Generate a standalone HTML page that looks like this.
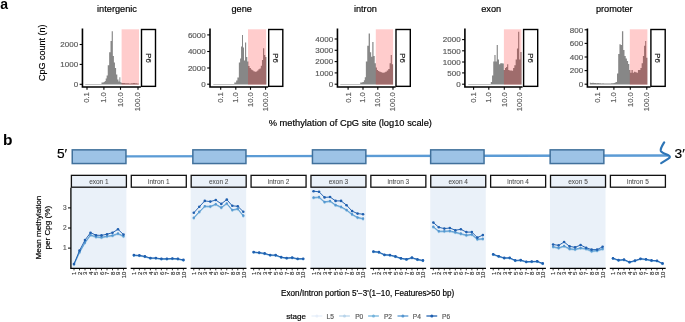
<!DOCTYPE html>
<html><head><meta charset="utf-8"><style>
html,body{margin:0;padding:0;background:#fff;width:685px;height:322px;overflow:hidden}
svg{display:block;will-change:transform}
</style></head><body>
<svg width="685" height="322" viewBox="0 0 685 322" font-family='"Liberation Sans", sans-serif'>
<rect width="685" height="322" fill="#fff"/>
<text x="0.2" y="8.5" font-size="14" font-weight="bold" fill="#000">a</text>
<text transform="translate(44.9,52.7) rotate(-90)" text-anchor="middle" font-size="9" fill="#000" stroke="#000" stroke-width="0.18">CpG count (n)</text>
<text x="350.3" y="125.6" text-anchor="middle" font-size="9.3" fill="#000" stroke="#000" stroke-width="0.18">% methylation of CpG site (log10 scale)</text>
<text x="117" y="11.7" text-anchor="middle" font-size="9.2" fill="#000" stroke="#000" stroke-width="0.18">intergenic</text>
<path d="M85.3,84.5 L85.3,83.95 L88,83.95 L88,83.95 L92,83.95 L92,83.95 L95.5,83.95 L95.5,83.95 L98.5,83.95 L98.5,83.95 L101.5,83.95 L101.5,82.6 L103.65,82.6 L103.65,82 L104.75,82 L104.75,81 L105.7,81 L105.7,78.5 L106.65,78.5 L106.65,75.5 L107.75,75.5 L107.75,65.2 L109.15,65.2 L109.15,52.2 L110.5,52.2 L110.5,41 L111.7,41 L111.7,31.2 L112.85,31.2 L112.85,56 L113.9,56 L113.9,62.4 L114.95,62.4 L114.95,68 L116.1,68 L116.1,74.6 L117.3,74.6 L117.3,79.5 L118.45,79.5 L118.45,81.5 L119.4,81.5 L119.4,77.3 L120.3,77.3 L120.3,82.3 L121.4,82.3 L121.4,83 L123,83 L123,83.1 L125,83.1 L125,83.3 L127,83.3 L127,83.2 L129,83.2 L129,83.4 L131,83.4 L131,83.3 L133,83.3 L133,83.1 L135,83.1 L135,83.3 L137,83.3 L137,83.4 L138.7,83.4 L138.7,84.5 Z" fill="#878787"/>
<rect x="121.6" y="29.3" width="17.4" height="55.5" fill="#ff0000" fill-opacity="0.2"/>
<path d="M82.45,28.4 V87 H140.9" fill="none" stroke="#000" stroke-width="1.6"/>
<line x1="79.65" x2="82.45" y1="84.3" y2="84.3" stroke="#000" stroke-width="1.1"/>
<text x="78.15" y="87.1" text-anchor="end" font-size="8" fill="#5a5a5a" stroke="#5a5a5a" stroke-width="0.18">0</text>
<line x1="79.65" x2="82.45" y1="64.4" y2="64.4" stroke="#000" stroke-width="1.1"/>
<text x="78.15" y="67.2" text-anchor="end" font-size="8" fill="#5a5a5a" stroke="#5a5a5a" stroke-width="0.18">1000</text>
<line x1="79.65" x2="82.45" y1="44.5" y2="44.5" stroke="#000" stroke-width="1.1"/>
<text x="78.15" y="47.3" text-anchor="end" font-size="8" fill="#5a5a5a" stroke="#5a5a5a" stroke-width="0.18">2000</text>
<line x1="87" x2="87" y1="87" y2="89.8" stroke="#000" stroke-width="1.1"/>
<text transform="translate(89.4,92.2) rotate(-90)" text-anchor="end" font-size="7.6" fill="#5a5a5a" stroke="#5a5a5a" stroke-width="0.18">0.1</text>
<line x1="103.9" x2="103.9" y1="87" y2="89.8" stroke="#000" stroke-width="1.1"/>
<text transform="translate(106.3,92.2) rotate(-90)" text-anchor="end" font-size="7.6" fill="#5a5a5a" stroke="#5a5a5a" stroke-width="0.18">1.0</text>
<line x1="120.5" x2="120.5" y1="87" y2="89.8" stroke="#000" stroke-width="1.1"/>
<text transform="translate(122.9,92.2) rotate(-90)" text-anchor="end" font-size="7.6" fill="#5a5a5a" stroke="#5a5a5a" stroke-width="0.18">10.0</text>
<line x1="138" x2="138" y1="87" y2="89.8" stroke="#000" stroke-width="1.1"/>
<text transform="translate(140.4,92.2) rotate(-90)" text-anchor="end" font-size="7.6" fill="#5a5a5a" stroke="#5a5a5a" stroke-width="0.18">100.0</text>
<rect x="141.5" y="29.5" width="14" height="56.85" fill="#fff" stroke="#000" stroke-width="1.4"/>
<text transform="translate(145.8,58.0) rotate(90)" text-anchor="middle" font-size="7.8" fill="#1a1a1a" stroke="#1a1a1a" stroke-width="0.18">P6</text>
<text x="241.7" y="11.7" text-anchor="middle" font-size="9.2" fill="#000" stroke="#000" stroke-width="0.18">gene</text>
<path d="M213.3,84.5 L213.3,83.95 L216,83.95 L216,83.95 L220,83.95 L220,83.95 L224,83.95 L224,83.95 L228,83.95 L228,83.95 L231.5,83.95 L231.5,83.95 L234.3,83.95 L234.3,82.6 L236.15,82.6 L236.15,80.5 L237.4,80.5 L237.4,77.5 L238.85,77.5 L238.85,62.4 L240.1,62.4 L240.1,58.6 L241.05,58.6 L241.05,46.6 L242,46.6 L242,35 L243,35 L243,47.6 L244,47.6 L244,60.6 L245.05,60.6 L245.05,42.5 L246.15,42.5 L246.15,56.9 L247.3,56.9 L247.3,61.6 L248.4,61.6 L248.4,66 L249.6,66 L249.6,68 L250.9,68 L250.9,69.5 L252.1,69.5 L252.1,70.2 L253.35,70.2 L253.35,71.2 L254.65,71.2 L254.65,71.7 L255.95,71.7 L255.95,71.6 L257.2,71.6 L257.2,70.4 L258.4,70.4 L258.4,69.2 L259.6,69.2 L259.6,68.6 L260.8,68.6 L260.8,65.8 L261.95,65.8 L261.95,60 L263.05,60 L263.05,48.3 L264.2,48.3 L264.2,55 L265.25,55 L265.25,57 L266.4,57 L266.4,84.5 Z" fill="#878787"/>
<rect x="248" y="29.3" width="18.1" height="55.5" fill="#ff0000" fill-opacity="0.2"/>
<path d="M210,28.4 V87 H268.1" fill="none" stroke="#000" stroke-width="1.6"/>
<line x1="207.2" x2="210" y1="84.2" y2="84.2" stroke="#000" stroke-width="1.1"/>
<text x="205.7" y="87" text-anchor="end" font-size="8" fill="#5a5a5a" stroke="#5a5a5a" stroke-width="0.18">0</text>
<line x1="207.2" x2="210" y1="68" y2="68" stroke="#000" stroke-width="1.1"/>
<text x="205.7" y="70.8" text-anchor="end" font-size="8" fill="#5a5a5a" stroke="#5a5a5a" stroke-width="0.18">2000</text>
<line x1="207.2" x2="210" y1="51.5" y2="51.5" stroke="#000" stroke-width="1.1"/>
<text x="205.7" y="54.3" text-anchor="end" font-size="8" fill="#5a5a5a" stroke="#5a5a5a" stroke-width="0.18">4000</text>
<line x1="207.2" x2="210" y1="34.9" y2="34.9" stroke="#000" stroke-width="1.1"/>
<text x="205.7" y="37.7" text-anchor="end" font-size="8" fill="#5a5a5a" stroke="#5a5a5a" stroke-width="0.18">6000</text>
<line x1="220.7" x2="220.7" y1="87" y2="89.8" stroke="#000" stroke-width="1.1"/>
<text transform="translate(223.1,92.2) rotate(-90)" text-anchor="end" font-size="7.6" fill="#5a5a5a" stroke="#5a5a5a" stroke-width="0.18">0.1</text>
<line x1="235.8" x2="235.8" y1="87" y2="89.8" stroke="#000" stroke-width="1.1"/>
<text transform="translate(238.2,92.2) rotate(-90)" text-anchor="end" font-size="7.6" fill="#5a5a5a" stroke="#5a5a5a" stroke-width="0.18">1.0</text>
<line x1="250.5" x2="250.5" y1="87" y2="89.8" stroke="#000" stroke-width="1.1"/>
<text transform="translate(252.9,92.2) rotate(-90)" text-anchor="end" font-size="7.6" fill="#5a5a5a" stroke="#5a5a5a" stroke-width="0.18">10.0</text>
<line x1="265.6" x2="265.6" y1="87" y2="89.8" stroke="#000" stroke-width="1.1"/>
<text transform="translate(268,92.2) rotate(-90)" text-anchor="end" font-size="7.6" fill="#5a5a5a" stroke="#5a5a5a" stroke-width="0.18">100.0</text>
<rect x="268.7" y="29.5" width="14.1" height="56.85" fill="#fff" stroke="#000" stroke-width="1.4"/>
<text transform="translate(273.05,58.0) rotate(90)" text-anchor="middle" font-size="7.8" fill="#1a1a1a" stroke="#1a1a1a" stroke-width="0.18">P6</text>
<text x="365.4" y="11.7" text-anchor="middle" font-size="9.2" fill="#000" stroke="#000" stroke-width="0.18">intron</text>
<path d="M340.3,84.5 L340.3,83.95 L343,83.95 L343,83.95 L347,83.95 L347,83.95 L351,83.95 L351,83.95 L354.5,83.95 L354.5,83.95 L357.5,83.95 L357.5,83.95 L360.25,83.95 L360.25,82.6 L362.45,82.6 L362.45,82 L363.9,82 L363.9,80.2 L364.8,80.2 L364.8,77.3 L365.85,77.3 L365.85,61.5 L367.25,61.5 L367.25,45.7 L368.65,45.7 L368.65,33.6 L369.95,33.6 L369.95,52.2 L371.15,52.2 L371.15,56.8 L372.3,56.8 L372.3,42 L373.5,42 L373.5,55.9 L374.7,55.9 L374.7,63.3 L375.85,63.3 L375.85,67.5 L376.9,67.5 L376.9,69.9 L378.05,69.9 L378.05,71 L379.35,71 L379.35,71.7 L380.75,71.7 L380.75,72.3 L382.25,72.3 L382.25,72.7 L383.75,72.7 L383.75,72.5 L385.25,72.5 L385.25,71.7 L386.75,71.7 L386.75,70.6 L388.25,70.6 L388.25,68.9 L389.6,68.9 L389.6,63.3 L390.75,63.3 L390.75,55 L391.85,55 L391.85,64.3 L393.1,64.3 L393.1,84.5 Z" fill="#878787"/>
<rect x="375.8" y="29.3" width="17.3" height="55.5" fill="#ff0000" fill-opacity="0.2"/>
<path d="M337.45,28.4 V87 H395.6" fill="none" stroke="#000" stroke-width="1.6"/>
<line x1="334.65" x2="337.45" y1="84.2" y2="84.2" stroke="#000" stroke-width="1.1"/>
<text x="333.15" y="87" text-anchor="end" font-size="8" fill="#5a5a5a" stroke="#5a5a5a" stroke-width="0.18">0</text>
<line x1="334.65" x2="337.45" y1="72.9" y2="72.9" stroke="#000" stroke-width="1.1"/>
<text x="333.15" y="75.7" text-anchor="end" font-size="8" fill="#5a5a5a" stroke="#5a5a5a" stroke-width="0.18">1000</text>
<line x1="334.65" x2="337.45" y1="61.6" y2="61.6" stroke="#000" stroke-width="1.1"/>
<text x="333.15" y="64.4" text-anchor="end" font-size="8" fill="#5a5a5a" stroke="#5a5a5a" stroke-width="0.18">2000</text>
<line x1="334.65" x2="337.45" y1="50.3" y2="50.3" stroke="#000" stroke-width="1.1"/>
<text x="333.15" y="53.1" text-anchor="end" font-size="8" fill="#5a5a5a" stroke="#5a5a5a" stroke-width="0.18">3000</text>
<line x1="334.65" x2="337.45" y1="39" y2="39" stroke="#000" stroke-width="1.1"/>
<text x="333.15" y="41.8" text-anchor="end" font-size="8" fill="#5a5a5a" stroke="#5a5a5a" stroke-width="0.18">4000</text>
<line x1="348.1" x2="348.1" y1="87" y2="89.8" stroke="#000" stroke-width="1.1"/>
<text transform="translate(350.5,92.2) rotate(-90)" text-anchor="end" font-size="7.6" fill="#5a5a5a" stroke="#5a5a5a" stroke-width="0.18">0.1</text>
<line x1="363" x2="363" y1="87" y2="89.8" stroke="#000" stroke-width="1.1"/>
<text transform="translate(365.4,92.2) rotate(-90)" text-anchor="end" font-size="7.6" fill="#5a5a5a" stroke="#5a5a5a" stroke-width="0.18">1.0</text>
<line x1="377.8" x2="377.8" y1="87" y2="89.8" stroke="#000" stroke-width="1.1"/>
<text transform="translate(380.2,92.2) rotate(-90)" text-anchor="end" font-size="7.6" fill="#5a5a5a" stroke="#5a5a5a" stroke-width="0.18">10.0</text>
<line x1="393" x2="393" y1="87" y2="89.8" stroke="#000" stroke-width="1.1"/>
<text transform="translate(395.4,92.2) rotate(-90)" text-anchor="end" font-size="7.6" fill="#5a5a5a" stroke="#5a5a5a" stroke-width="0.18">100.0</text>
<rect x="396" y="29.5" width="14.3" height="56.85" fill="#fff" stroke="#000" stroke-width="1.4"/>
<text transform="translate(400.45,58.0) rotate(90)" text-anchor="middle" font-size="7.8" fill="#1a1a1a" stroke="#1a1a1a" stroke-width="0.18">P6</text>
<text x="491.2" y="11.7" text-anchor="middle" font-size="9.2" fill="#000" stroke="#000" stroke-width="0.18">exon</text>
<path d="M468.3,84.5 L468.3,83.95 L471,83.95 L471,83.95 L475,83.95 L475,83.95 L479,83.95 L479,83.95 L483,83.95 L483,83.95 L486.5,83.95 L486.5,83.95 L489.1,83.95 L489.1,83.95 L490.8,83.95 L490.8,82 L492.05,82 L492.05,75.4 L493.25,75.4 L493.25,61.5 L494.4,61.5 L494.4,55 L495.55,55 L495.55,61.5 L496.7,61.5 L496.7,45.1 L497.85,45.1 L497.85,59.6 L499,59.6 L499,64.3 L500.2,64.3 L500.2,63.3 L501.4,63.3 L501.4,63.3 L502.6,63.3 L502.6,63.5 L503.8,63.5 L503.8,69.9 L505,69.9 L505,68 L506.1,68 L506.1,67 L507.15,67 L507.15,64.3 L508.25,64.3 L508.25,69.9 L509.4,69.9 L509.4,70.4 L510.65,70.4 L510.65,70.6 L511.9,70.6 L511.9,70.8 L513.1,70.8 L513.1,68 L514.35,68 L514.35,65.2 L515.65,65.2 L515.65,59.6 L516.95,59.6 L516.95,48.5 L518.15,48.5 L518.15,31.7 L519.25,31.7 L519.25,59.6 L520.35,59.6 L520.35,52 L521.6,52 L521.6,84.5 Z" fill="#878787"/>
<rect x="503.9" y="29.3" width="17.6" height="55.5" fill="#ff0000" fill-opacity="0.2"/>
<path d="M464.9,28.4 V87 H522.6" fill="none" stroke="#000" stroke-width="1.6"/>
<line x1="462.1" x2="464.9" y1="84.2" y2="84.2" stroke="#000" stroke-width="1.1"/>
<text x="460.6" y="87" text-anchor="end" font-size="8" fill="#5a5a5a" stroke="#5a5a5a" stroke-width="0.18">0</text>
<line x1="462.1" x2="464.9" y1="72.9" y2="72.9" stroke="#000" stroke-width="1.1"/>
<text x="460.6" y="75.7" text-anchor="end" font-size="8" fill="#5a5a5a" stroke="#5a5a5a" stroke-width="0.18">500</text>
<line x1="462.1" x2="464.9" y1="62" y2="62" stroke="#000" stroke-width="1.1"/>
<text x="460.6" y="64.8" text-anchor="end" font-size="8" fill="#5a5a5a" stroke="#5a5a5a" stroke-width="0.18">1000</text>
<line x1="462.1" x2="464.9" y1="50.8" y2="50.8" stroke="#000" stroke-width="1.1"/>
<text x="460.6" y="53.6" text-anchor="end" font-size="8" fill="#5a5a5a" stroke="#5a5a5a" stroke-width="0.18">1500</text>
<line x1="462.1" x2="464.9" y1="39.6" y2="39.6" stroke="#000" stroke-width="1.1"/>
<text x="460.6" y="42.4" text-anchor="end" font-size="8" fill="#5a5a5a" stroke="#5a5a5a" stroke-width="0.18">2000</text>
<line x1="473.6" x2="473.6" y1="87" y2="89.8" stroke="#000" stroke-width="1.1"/>
<text transform="translate(476,92.2) rotate(-90)" text-anchor="end" font-size="7.6" fill="#5a5a5a" stroke="#5a5a5a" stroke-width="0.18">0.1</text>
<line x1="488.8" x2="488.8" y1="87" y2="89.8" stroke="#000" stroke-width="1.1"/>
<text transform="translate(491.2,92.2) rotate(-90)" text-anchor="end" font-size="7.6" fill="#5a5a5a" stroke="#5a5a5a" stroke-width="0.18">1.0</text>
<line x1="504.3" x2="504.3" y1="87" y2="89.8" stroke="#000" stroke-width="1.1"/>
<text transform="translate(506.7,92.2) rotate(-90)" text-anchor="end" font-size="7.6" fill="#5a5a5a" stroke="#5a5a5a" stroke-width="0.18">10.0</text>
<line x1="520" x2="520" y1="87" y2="89.8" stroke="#000" stroke-width="1.1"/>
<text transform="translate(522.4,92.2) rotate(-90)" text-anchor="end" font-size="7.6" fill="#5a5a5a" stroke="#5a5a5a" stroke-width="0.18">100.0</text>
<rect x="523.6" y="29.5" width="14.1" height="56.85" fill="#fff" stroke="#000" stroke-width="1.4"/>
<text transform="translate(527.95,58.0) rotate(90)" text-anchor="middle" font-size="7.8" fill="#1a1a1a" stroke="#1a1a1a" stroke-width="0.18">P6</text>
<text x="614.3" y="11.7" text-anchor="middle" font-size="9.2" fill="#000" stroke="#000" stroke-width="0.18">promoter</text>
<path d="M589.8,84.5 L589.8,82.7 L591.15,82.7 L591.15,82.9 L592.4,82.9 L592.4,82.8 L593.65,82.8 L593.65,83 L594.9,83 L594.9,82.9 L596.15,82.9 L596.15,83.2 L597.4,83.2 L597.4,83 L598.65,83 L598.65,83.3 L599.9,83.3 L599.9,83.2 L601.15,83.2 L601.15,83.4 L602.4,83.4 L602.4,83.3 L603.65,83.3 L603.65,83.5 L604.9,83.5 L604.9,83.4 L606.15,83.4 L606.15,83.5 L607.4,83.5 L607.4,83.4 L608.65,83.4 L608.65,83.5 L609.9,83.5 L609.9,83.4 L611.15,83.4 L611.15,83.3 L612.4,83.3 L612.4,83.2 L613.65,83.2 L613.65,83 L614.85,83 L614.85,82.6 L615.9,82.6 L615.9,82 L617,82 L617,73.6 L618.2,73.6 L618.2,54 L619.45,54 L619.45,44.2 L620.7,44.2 L620.7,45 L621.95,45 L621.95,31.2 L623.25,31.2 L623.25,50 L624.5,50 L624.5,56 L625.7,56 L625.7,58.5 L626.9,58.5 L626.9,61 L628.1,61 L628.1,64 L629.25,64 L629.25,70 L630.35,70 L630.35,72.7 L631.5,72.7 L631.5,69.9 L632.75,69.9 L632.75,72.7 L634.05,72.7 L634.05,71.7 L635.35,71.7 L635.35,72.3 L636.65,72.3 L636.65,72.7 L637.95,72.7 L637.95,69.9 L639.2,69.9 L639.2,70 L640.4,70 L640.4,68 L641.65,68 L641.65,63.3 L642.9,63.3 L642.9,55.9 L644.1,55.9 L644.1,45.7 L645.2,45.7 L645.2,41 L646.2,41 L646.2,57.8 L647.4,57.8 L647.4,84.5 Z" fill="#878787"/>
<rect x="629.8" y="29.3" width="17.6" height="55.5" fill="#ff0000" fill-opacity="0.2"/>
<path d="M587.4,28.4 V87 H650.5" fill="none" stroke="#000" stroke-width="1.6"/>
<line x1="584.6" x2="587.4" y1="84.2" y2="84.2" stroke="#000" stroke-width="1.1"/>
<text x="583.1" y="87" text-anchor="end" font-size="8" fill="#5a5a5a" stroke="#5a5a5a" stroke-width="0.18">0</text>
<line x1="584.6" x2="587.4" y1="70.6" y2="70.6" stroke="#000" stroke-width="1.1"/>
<text x="583.1" y="73.4" text-anchor="end" font-size="8" fill="#5a5a5a" stroke="#5a5a5a" stroke-width="0.18">200</text>
<line x1="584.6" x2="587.4" y1="57" y2="57" stroke="#000" stroke-width="1.1"/>
<text x="583.1" y="59.8" text-anchor="end" font-size="8" fill="#5a5a5a" stroke="#5a5a5a" stroke-width="0.18">400</text>
<line x1="584.6" x2="587.4" y1="43.4" y2="43.4" stroke="#000" stroke-width="1.1"/>
<text x="583.1" y="46.2" text-anchor="end" font-size="8" fill="#5a5a5a" stroke="#5a5a5a" stroke-width="0.18">600</text>
<line x1="584.6" x2="587.4" y1="29.8" y2="29.8" stroke="#000" stroke-width="1.1"/>
<text x="583.1" y="32.6" text-anchor="end" font-size="8" fill="#5a5a5a" stroke="#5a5a5a" stroke-width="0.18">800</text>
<line x1="597.4" x2="597.4" y1="87" y2="89.8" stroke="#000" stroke-width="1.1"/>
<text transform="translate(599.8,92.2) rotate(-90)" text-anchor="end" font-size="7.6" fill="#5a5a5a" stroke="#5a5a5a" stroke-width="0.18">0.1</text>
<line x1="613.9" x2="613.9" y1="87" y2="89.8" stroke="#000" stroke-width="1.1"/>
<text transform="translate(616.3,92.2) rotate(-90)" text-anchor="end" font-size="7.6" fill="#5a5a5a" stroke="#5a5a5a" stroke-width="0.18">1.0</text>
<line x1="630.3" x2="630.3" y1="87" y2="89.8" stroke="#000" stroke-width="1.1"/>
<text transform="translate(632.7,92.2) rotate(-90)" text-anchor="end" font-size="7.6" fill="#5a5a5a" stroke="#5a5a5a" stroke-width="0.18">10.0</text>
<line x1="646.8" x2="646.8" y1="87" y2="89.8" stroke="#000" stroke-width="1.1"/>
<text transform="translate(649.2,92.2) rotate(-90)" text-anchor="end" font-size="7.6" fill="#5a5a5a" stroke="#5a5a5a" stroke-width="0.18">100.0</text>
<rect x="650.9" y="29.5" width="14.3" height="56.85" fill="#fff" stroke="#000" stroke-width="1.4"/>
<text transform="translate(655.35,58.0) rotate(90)" text-anchor="middle" font-size="7.8" fill="#1a1a1a" stroke="#1a1a1a" stroke-width="0.18">P6</text>
<text x="2.9" y="145.2" font-size="15.5" font-weight="bold" fill="#000">b</text>
<text transform="translate(56.9,158.2) scale(1.1,1)" font-size="12.5" fill="#000" stroke="#000" stroke-width="0.18">5′</text>
<text transform="translate(674.5,158.2) scale(1.1,1)" font-size="12.5" fill="#000" stroke="#000" stroke-width="0.18">3′</text>
<line x1="126" y1="156.4" x2="668.5" y2="155.5" stroke="#5b9bd5" stroke-width="2.3"/>
<path d="M664.2,142.4 C662.3,145.5 660.2,148.6 660.8,150.8 C661.6,152.8 666,154 669,155.6 C670.3,156.4 670.1,157.7 668.4,158.6 L661.2,163.1" fill="none" stroke="#2e75b6" stroke-width="2.2" stroke-linecap="round" stroke-linejoin="round"/>
<rect x="72.25" y="149.85" width="53.7" height="13.7" fill="#9dc3e6" stroke="#41719c" stroke-width="1.5"/>
<rect x="192.85" y="149.85" width="53.1" height="13.7" fill="#9dc3e6" stroke="#41719c" stroke-width="1.5"/>
<rect x="312.45" y="149.85" width="53.4" height="13.7" fill="#9dc3e6" stroke="#41719c" stroke-width="1.5"/>
<rect x="430.65" y="149.85" width="53.4" height="13.7" fill="#9dc3e6" stroke="#41719c" stroke-width="1.5"/>
<rect x="550.15" y="149.85" width="53.7" height="13.7" fill="#9dc3e6" stroke="#41719c" stroke-width="1.5"/>
<rect x="70.9" y="187.8" width="55.5" height="80.6" fill="#eaf1f9"/>
<rect x="71.4" y="175.35" width="55" height="11.85" fill="#eaf1f9" stroke="#111" stroke-width="1.3"/>
<text x="98.9" y="183.9" text-anchor="middle" font-size="6.5" fill="#4a4a4a" stroke="#4a4a4a" stroke-width="0.05">exon 1</text>
<line x1="70.8" x2="126.7" y1="268.4" y2="268.4" stroke="#000" stroke-width="1.2"/>
<line x1="74" x2="74" y1="268.4" y2="270.4" stroke="#000" stroke-width="0.8"/>
<text transform="translate(76.3,271.6) rotate(-90)" text-anchor="end" font-size="6" fill="#333" stroke="#333" stroke-width="0.15">1</text>
<line x1="79.5" x2="79.5" y1="268.4" y2="270.4" stroke="#000" stroke-width="0.8"/>
<text transform="translate(81.8,271.6) rotate(-90)" text-anchor="end" font-size="6" fill="#333" stroke="#333" stroke-width="0.15">2</text>
<line x1="85" x2="85" y1="268.4" y2="270.4" stroke="#000" stroke-width="0.8"/>
<text transform="translate(87.3,271.6) rotate(-90)" text-anchor="end" font-size="6" fill="#333" stroke="#333" stroke-width="0.15">3</text>
<line x1="90.5" x2="90.5" y1="268.4" y2="270.4" stroke="#000" stroke-width="0.8"/>
<text transform="translate(92.8,271.6) rotate(-90)" text-anchor="end" font-size="6" fill="#333" stroke="#333" stroke-width="0.15">4</text>
<line x1="96" x2="96" y1="268.4" y2="270.4" stroke="#000" stroke-width="0.8"/>
<text transform="translate(98.3,271.6) rotate(-90)" text-anchor="end" font-size="6" fill="#333" stroke="#333" stroke-width="0.15">5</text>
<line x1="101.5" x2="101.5" y1="268.4" y2="270.4" stroke="#000" stroke-width="0.8"/>
<text transform="translate(103.8,271.6) rotate(-90)" text-anchor="end" font-size="6" fill="#333" stroke="#333" stroke-width="0.15">6</text>
<line x1="107" x2="107" y1="268.4" y2="270.4" stroke="#000" stroke-width="0.8"/>
<text transform="translate(109.3,271.6) rotate(-90)" text-anchor="end" font-size="6" fill="#333" stroke="#333" stroke-width="0.15">7</text>
<line x1="112.5" x2="112.5" y1="268.4" y2="270.4" stroke="#000" stroke-width="0.8"/>
<text transform="translate(114.8,271.6) rotate(-90)" text-anchor="end" font-size="6" fill="#333" stroke="#333" stroke-width="0.15">8</text>
<line x1="118" x2="118" y1="268.4" y2="270.4" stroke="#000" stroke-width="0.8"/>
<text transform="translate(120.3,271.6) rotate(-90)" text-anchor="end" font-size="6" fill="#333" stroke="#333" stroke-width="0.15">9</text>
<line x1="123.5" x2="123.5" y1="268.4" y2="270.4" stroke="#000" stroke-width="0.8"/>
<text transform="translate(125.8,271.6) rotate(-90)" text-anchor="end" font-size="6" fill="#333" stroke="#333" stroke-width="0.15">10</text>
<polyline points="74,265.5 79.5,253.6 85,243.9 90.5,236.4 96,238.2 101.5,238.7 107,237.6 112.5,236.9 118,234.9 123.5,237.6" fill="none" stroke="#e6eef9" stroke-width="0.85" stroke-linejoin="round"/>
<circle cx="74" cy="265.5" r="1.15" fill="#e6eef9"/>
<circle cx="79.5" cy="253.6" r="1.15" fill="#e6eef9"/>
<circle cx="85" cy="243.9" r="1.15" fill="#e6eef9"/>
<circle cx="90.5" cy="236.4" r="1.15" fill="#e6eef9"/>
<circle cx="96" cy="238.2" r="1.15" fill="#e6eef9"/>
<circle cx="101.5" cy="238.7" r="1.15" fill="#e6eef9"/>
<circle cx="107" cy="237.6" r="1.15" fill="#e6eef9"/>
<circle cx="112.5" cy="236.9" r="1.15" fill="#e6eef9"/>
<circle cx="118" cy="234.9" r="1.15" fill="#e6eef9"/>
<circle cx="123.5" cy="237.6" r="1.15" fill="#e6eef9"/>
<polyline points="74,265 79.5,253.1 85,243.4 90.5,235.9 96,237.7 101.5,238.2 107,237.1 112.5,236.4 118,234.4 123.5,237.1" fill="none" stroke="#b8d4ea" stroke-width="0.85" stroke-linejoin="round"/>
<circle cx="74" cy="265" r="1.15" fill="#b8d4ea"/>
<circle cx="79.5" cy="253.1" r="1.15" fill="#b8d4ea"/>
<circle cx="85" cy="243.4" r="1.15" fill="#b8d4ea"/>
<circle cx="90.5" cy="235.9" r="1.15" fill="#b8d4ea"/>
<circle cx="96" cy="237.7" r="1.15" fill="#b8d4ea"/>
<circle cx="101.5" cy="238.2" r="1.15" fill="#b8d4ea"/>
<circle cx="107" cy="237.1" r="1.15" fill="#b8d4ea"/>
<circle cx="112.5" cy="236.4" r="1.15" fill="#b8d4ea"/>
<circle cx="118" cy="234.4" r="1.15" fill="#b8d4ea"/>
<circle cx="123.5" cy="237.1" r="1.15" fill="#b8d4ea"/>
<polyline points="74,264.5 79.5,252.6 85,242.9 90.5,235.4 96,237.2 101.5,237.7 107,236.6 112.5,235.9 118,233.9 123.5,236.6" fill="none" stroke="#74b3dc" stroke-width="0.85" stroke-linejoin="round"/>
<circle cx="74" cy="264.5" r="1.15" fill="#74b3dc"/>
<circle cx="79.5" cy="252.6" r="1.15" fill="#74b3dc"/>
<circle cx="85" cy="242.9" r="1.15" fill="#74b3dc"/>
<circle cx="90.5" cy="235.4" r="1.15" fill="#74b3dc"/>
<circle cx="96" cy="237.2" r="1.15" fill="#74b3dc"/>
<circle cx="101.5" cy="237.7" r="1.15" fill="#74b3dc"/>
<circle cx="107" cy="236.6" r="1.15" fill="#74b3dc"/>
<circle cx="112.5" cy="235.9" r="1.15" fill="#74b3dc"/>
<circle cx="118" cy="233.9" r="1.15" fill="#74b3dc"/>
<circle cx="123.5" cy="236.6" r="1.15" fill="#74b3dc"/>
<polyline points="74,264 79.5,252.1 85,242.4 90.5,234.9 96,236.7 101.5,237.2 107,236.1 112.5,235.4 118,233.4 123.5,236.1" fill="none" stroke="#5496d0" stroke-width="0.85" stroke-linejoin="round"/>
<circle cx="74" cy="264" r="1.15" fill="#5496d0"/>
<circle cx="79.5" cy="252.1" r="1.15" fill="#5496d0"/>
<circle cx="85" cy="242.4" r="1.15" fill="#5496d0"/>
<circle cx="90.5" cy="234.9" r="1.15" fill="#5496d0"/>
<circle cx="96" cy="236.7" r="1.15" fill="#5496d0"/>
<circle cx="101.5" cy="237.2" r="1.15" fill="#5496d0"/>
<circle cx="107" cy="236.1" r="1.15" fill="#5496d0"/>
<circle cx="112.5" cy="235.4" r="1.15" fill="#5496d0"/>
<circle cx="118" cy="233.4" r="1.15" fill="#5496d0"/>
<circle cx="123.5" cy="236.1" r="1.15" fill="#5496d0"/>
<polyline points="74,264 79.5,250.6 85,240.1 90.5,232.7 96,235.2 101.5,235.4 107,234.2 112.5,232.7 118,229.3 123.5,234.6" fill="none" stroke="#1f5faf" stroke-width="0.95" stroke-linejoin="round"/>
<circle cx="74" cy="264" r="1.3" fill="#1f5faf"/>
<circle cx="79.5" cy="250.6" r="1.3" fill="#1f5faf"/>
<circle cx="85" cy="240.1" r="1.3" fill="#1f5faf"/>
<circle cx="90.5" cy="232.7" r="1.3" fill="#1f5faf"/>
<circle cx="96" cy="235.2" r="1.3" fill="#1f5faf"/>
<circle cx="101.5" cy="235.4" r="1.3" fill="#1f5faf"/>
<circle cx="107" cy="234.2" r="1.3" fill="#1f5faf"/>
<circle cx="112.5" cy="232.7" r="1.3" fill="#1f5faf"/>
<circle cx="118" cy="229.3" r="1.3" fill="#1f5faf"/>
<circle cx="123.5" cy="234.6" r="1.3" fill="#1f5faf"/>
<rect x="131.29" y="175.35" width="55" height="11.85" fill="#fff" stroke="#111" stroke-width="1.3"/>
<text x="158.79" y="183.9" text-anchor="middle" font-size="6.5" fill="#4a4a4a" stroke="#4a4a4a" stroke-width="0.05">intron 1</text>
<line x1="130.69" x2="186.59" y1="268.4" y2="268.4" stroke="#000" stroke-width="1.2"/>
<line x1="133.89" x2="133.89" y1="268.4" y2="270.4" stroke="#000" stroke-width="0.8"/>
<text transform="translate(136.19,271.6) rotate(-90)" text-anchor="end" font-size="6" fill="#333" stroke="#333" stroke-width="0.15">1</text>
<line x1="139.39" x2="139.39" y1="268.4" y2="270.4" stroke="#000" stroke-width="0.8"/>
<text transform="translate(141.69,271.6) rotate(-90)" text-anchor="end" font-size="6" fill="#333" stroke="#333" stroke-width="0.15">2</text>
<line x1="144.89" x2="144.89" y1="268.4" y2="270.4" stroke="#000" stroke-width="0.8"/>
<text transform="translate(147.19,271.6) rotate(-90)" text-anchor="end" font-size="6" fill="#333" stroke="#333" stroke-width="0.15">3</text>
<line x1="150.39" x2="150.39" y1="268.4" y2="270.4" stroke="#000" stroke-width="0.8"/>
<text transform="translate(152.69,271.6) rotate(-90)" text-anchor="end" font-size="6" fill="#333" stroke="#333" stroke-width="0.15">4</text>
<line x1="155.89" x2="155.89" y1="268.4" y2="270.4" stroke="#000" stroke-width="0.8"/>
<text transform="translate(158.19,271.6) rotate(-90)" text-anchor="end" font-size="6" fill="#333" stroke="#333" stroke-width="0.15">5</text>
<line x1="161.39" x2="161.39" y1="268.4" y2="270.4" stroke="#000" stroke-width="0.8"/>
<text transform="translate(163.69,271.6) rotate(-90)" text-anchor="end" font-size="6" fill="#333" stroke="#333" stroke-width="0.15">6</text>
<line x1="166.89" x2="166.89" y1="268.4" y2="270.4" stroke="#000" stroke-width="0.8"/>
<text transform="translate(169.19,271.6) rotate(-90)" text-anchor="end" font-size="6" fill="#333" stroke="#333" stroke-width="0.15">7</text>
<line x1="172.39" x2="172.39" y1="268.4" y2="270.4" stroke="#000" stroke-width="0.8"/>
<text transform="translate(174.69,271.6) rotate(-90)" text-anchor="end" font-size="6" fill="#333" stroke="#333" stroke-width="0.15">8</text>
<line x1="177.89" x2="177.89" y1="268.4" y2="270.4" stroke="#000" stroke-width="0.8"/>
<text transform="translate(180.19,271.6) rotate(-90)" text-anchor="end" font-size="6" fill="#333" stroke="#333" stroke-width="0.15">9</text>
<line x1="183.39" x2="183.39" y1="268.4" y2="270.4" stroke="#000" stroke-width="0.8"/>
<text transform="translate(185.69,271.6) rotate(-90)" text-anchor="end" font-size="6" fill="#333" stroke="#333" stroke-width="0.15">10</text>
<polyline points="133.89,255.98 139.39,256.28 144.89,257.28 150.39,258.88 155.89,258.88 161.39,259.68 166.89,259.68 172.39,259.38 177.89,259.68 183.39,260.78" fill="none" stroke="#e6eef9" stroke-width="0.85" stroke-linejoin="round"/>
<circle cx="133.89" cy="255.98" r="1.15" fill="#e6eef9"/>
<circle cx="139.39" cy="256.28" r="1.15" fill="#e6eef9"/>
<circle cx="144.89" cy="257.28" r="1.15" fill="#e6eef9"/>
<circle cx="150.39" cy="258.88" r="1.15" fill="#e6eef9"/>
<circle cx="155.89" cy="258.88" r="1.15" fill="#e6eef9"/>
<circle cx="161.39" cy="259.68" r="1.15" fill="#e6eef9"/>
<circle cx="166.89" cy="259.68" r="1.15" fill="#e6eef9"/>
<circle cx="172.39" cy="259.38" r="1.15" fill="#e6eef9"/>
<circle cx="177.89" cy="259.68" r="1.15" fill="#e6eef9"/>
<circle cx="183.39" cy="260.78" r="1.15" fill="#e6eef9"/>
<polyline points="133.89,255.76 139.39,256.06 144.89,257.06 150.39,258.66 155.89,258.66 161.39,259.46 166.89,259.46 172.39,259.16 177.89,259.46 183.39,260.56" fill="none" stroke="#b8d4ea" stroke-width="0.85" stroke-linejoin="round"/>
<circle cx="133.89" cy="255.76" r="1.15" fill="#b8d4ea"/>
<circle cx="139.39" cy="256.06" r="1.15" fill="#b8d4ea"/>
<circle cx="144.89" cy="257.06" r="1.15" fill="#b8d4ea"/>
<circle cx="150.39" cy="258.66" r="1.15" fill="#b8d4ea"/>
<circle cx="155.89" cy="258.66" r="1.15" fill="#b8d4ea"/>
<circle cx="161.39" cy="259.46" r="1.15" fill="#b8d4ea"/>
<circle cx="166.89" cy="259.46" r="1.15" fill="#b8d4ea"/>
<circle cx="172.39" cy="259.16" r="1.15" fill="#b8d4ea"/>
<circle cx="177.89" cy="259.46" r="1.15" fill="#b8d4ea"/>
<circle cx="183.39" cy="260.56" r="1.15" fill="#b8d4ea"/>
<polyline points="133.89,255.54 139.39,255.84 144.89,256.84 150.39,258.44 155.89,258.44 161.39,259.24 166.89,259.24 172.39,258.94 177.89,259.24 183.39,260.34" fill="none" stroke="#74b3dc" stroke-width="0.85" stroke-linejoin="round"/>
<circle cx="133.89" cy="255.54" r="1.15" fill="#74b3dc"/>
<circle cx="139.39" cy="255.84" r="1.15" fill="#74b3dc"/>
<circle cx="144.89" cy="256.84" r="1.15" fill="#74b3dc"/>
<circle cx="150.39" cy="258.44" r="1.15" fill="#74b3dc"/>
<circle cx="155.89" cy="258.44" r="1.15" fill="#74b3dc"/>
<circle cx="161.39" cy="259.24" r="1.15" fill="#74b3dc"/>
<circle cx="166.89" cy="259.24" r="1.15" fill="#74b3dc"/>
<circle cx="172.39" cy="258.94" r="1.15" fill="#74b3dc"/>
<circle cx="177.89" cy="259.24" r="1.15" fill="#74b3dc"/>
<circle cx="183.39" cy="260.34" r="1.15" fill="#74b3dc"/>
<polyline points="133.89,255.32 139.39,255.62 144.89,256.62 150.39,258.22 155.89,258.22 161.39,259.02 166.89,259.02 172.39,258.72 177.89,259.02 183.39,260.12" fill="none" stroke="#5496d0" stroke-width="0.85" stroke-linejoin="round"/>
<circle cx="133.89" cy="255.32" r="1.15" fill="#5496d0"/>
<circle cx="139.39" cy="255.62" r="1.15" fill="#5496d0"/>
<circle cx="144.89" cy="256.62" r="1.15" fill="#5496d0"/>
<circle cx="150.39" cy="258.22" r="1.15" fill="#5496d0"/>
<circle cx="155.89" cy="258.22" r="1.15" fill="#5496d0"/>
<circle cx="161.39" cy="259.02" r="1.15" fill="#5496d0"/>
<circle cx="166.89" cy="259.02" r="1.15" fill="#5496d0"/>
<circle cx="172.39" cy="258.72" r="1.15" fill="#5496d0"/>
<circle cx="177.89" cy="259.02" r="1.15" fill="#5496d0"/>
<circle cx="183.39" cy="260.12" r="1.15" fill="#5496d0"/>
<polyline points="133.89,255.1 139.39,255.4 144.89,256.4 150.39,258 155.89,258 161.39,258.8 166.89,258.8 172.39,258.5 177.89,258.8 183.39,259.9" fill="none" stroke="#1f5faf" stroke-width="0.95" stroke-linejoin="round"/>
<circle cx="133.89" cy="255.1" r="1.3" fill="#1f5faf"/>
<circle cx="139.39" cy="255.4" r="1.3" fill="#1f5faf"/>
<circle cx="144.89" cy="256.4" r="1.3" fill="#1f5faf"/>
<circle cx="150.39" cy="258" r="1.3" fill="#1f5faf"/>
<circle cx="155.89" cy="258" r="1.3" fill="#1f5faf"/>
<circle cx="161.39" cy="258.8" r="1.3" fill="#1f5faf"/>
<circle cx="166.89" cy="258.8" r="1.3" fill="#1f5faf"/>
<circle cx="172.39" cy="258.5" r="1.3" fill="#1f5faf"/>
<circle cx="177.89" cy="258.8" r="1.3" fill="#1f5faf"/>
<circle cx="183.39" cy="259.9" r="1.3" fill="#1f5faf"/>
<rect x="190.68" y="187.8" width="55.5" height="80.6" fill="#eaf1f9"/>
<rect x="191.18" y="175.35" width="55" height="11.85" fill="#eaf1f9" stroke="#111" stroke-width="1.3"/>
<text x="218.68" y="183.9" text-anchor="middle" font-size="6.5" fill="#4a4a4a" stroke="#4a4a4a" stroke-width="0.05">exon 2</text>
<line x1="190.58" x2="246.48" y1="268.4" y2="268.4" stroke="#000" stroke-width="1.2"/>
<line x1="193.78" x2="193.78" y1="268.4" y2="270.4" stroke="#000" stroke-width="0.8"/>
<text transform="translate(196.08,271.6) rotate(-90)" text-anchor="end" font-size="6" fill="#333" stroke="#333" stroke-width="0.15">1</text>
<line x1="199.28" x2="199.28" y1="268.4" y2="270.4" stroke="#000" stroke-width="0.8"/>
<text transform="translate(201.58,271.6) rotate(-90)" text-anchor="end" font-size="6" fill="#333" stroke="#333" stroke-width="0.15">2</text>
<line x1="204.78" x2="204.78" y1="268.4" y2="270.4" stroke="#000" stroke-width="0.8"/>
<text transform="translate(207.08,271.6) rotate(-90)" text-anchor="end" font-size="6" fill="#333" stroke="#333" stroke-width="0.15">3</text>
<line x1="210.28" x2="210.28" y1="268.4" y2="270.4" stroke="#000" stroke-width="0.8"/>
<text transform="translate(212.58,271.6) rotate(-90)" text-anchor="end" font-size="6" fill="#333" stroke="#333" stroke-width="0.15">4</text>
<line x1="215.78" x2="215.78" y1="268.4" y2="270.4" stroke="#000" stroke-width="0.8"/>
<text transform="translate(218.08,271.6) rotate(-90)" text-anchor="end" font-size="6" fill="#333" stroke="#333" stroke-width="0.15">5</text>
<line x1="221.28" x2="221.28" y1="268.4" y2="270.4" stroke="#000" stroke-width="0.8"/>
<text transform="translate(223.58,271.6) rotate(-90)" text-anchor="end" font-size="6" fill="#333" stroke="#333" stroke-width="0.15">6</text>
<line x1="226.78" x2="226.78" y1="268.4" y2="270.4" stroke="#000" stroke-width="0.8"/>
<text transform="translate(229.08,271.6) rotate(-90)" text-anchor="end" font-size="6" fill="#333" stroke="#333" stroke-width="0.15">7</text>
<line x1="232.28" x2="232.28" y1="268.4" y2="270.4" stroke="#000" stroke-width="0.8"/>
<text transform="translate(234.58,271.6) rotate(-90)" text-anchor="end" font-size="6" fill="#333" stroke="#333" stroke-width="0.15">8</text>
<line x1="237.78" x2="237.78" y1="268.4" y2="270.4" stroke="#000" stroke-width="0.8"/>
<text transform="translate(240.08,271.6) rotate(-90)" text-anchor="end" font-size="6" fill="#333" stroke="#333" stroke-width="0.15">9</text>
<line x1="243.28" x2="243.28" y1="268.4" y2="270.4" stroke="#000" stroke-width="0.8"/>
<text transform="translate(245.58,271.6) rotate(-90)" text-anchor="end" font-size="6" fill="#333" stroke="#333" stroke-width="0.15">10</text>
<polyline points="193.78,219.2 199.28,213.2 204.78,207.6 210.28,207.8 215.78,205.6 221.28,208.9 226.78,204.8 232.28,211.3 237.78,210.2 243.28,217" fill="none" stroke="#e6eef9" stroke-width="0.85" stroke-linejoin="round"/>
<circle cx="193.78" cy="219.2" r="1.15" fill="#e6eef9"/>
<circle cx="199.28" cy="213.2" r="1.15" fill="#e6eef9"/>
<circle cx="204.78" cy="207.6" r="1.15" fill="#e6eef9"/>
<circle cx="210.28" cy="207.8" r="1.15" fill="#e6eef9"/>
<circle cx="215.78" cy="205.6" r="1.15" fill="#e6eef9"/>
<circle cx="221.28" cy="208.9" r="1.15" fill="#e6eef9"/>
<circle cx="226.78" cy="204.8" r="1.15" fill="#e6eef9"/>
<circle cx="232.28" cy="211.3" r="1.15" fill="#e6eef9"/>
<circle cx="237.78" cy="210.2" r="1.15" fill="#e6eef9"/>
<circle cx="243.28" cy="217" r="1.15" fill="#e6eef9"/>
<polyline points="193.78,218.7 199.28,212.7 204.78,207.1 210.28,207.3 215.78,205.1 221.28,208.4 226.78,204.3 232.28,210.8 237.78,209.7 243.28,216.5" fill="none" stroke="#b8d4ea" stroke-width="0.85" stroke-linejoin="round"/>
<circle cx="193.78" cy="218.7" r="1.15" fill="#b8d4ea"/>
<circle cx="199.28" cy="212.7" r="1.15" fill="#b8d4ea"/>
<circle cx="204.78" cy="207.1" r="1.15" fill="#b8d4ea"/>
<circle cx="210.28" cy="207.3" r="1.15" fill="#b8d4ea"/>
<circle cx="215.78" cy="205.1" r="1.15" fill="#b8d4ea"/>
<circle cx="221.28" cy="208.4" r="1.15" fill="#b8d4ea"/>
<circle cx="226.78" cy="204.3" r="1.15" fill="#b8d4ea"/>
<circle cx="232.28" cy="210.8" r="1.15" fill="#b8d4ea"/>
<circle cx="237.78" cy="209.7" r="1.15" fill="#b8d4ea"/>
<circle cx="243.28" cy="216.5" r="1.15" fill="#b8d4ea"/>
<polyline points="193.78,218.2 199.28,212.2 204.78,206.6 210.28,206.8 215.78,204.6 221.28,207.9 226.78,203.8 232.28,210.3 237.78,209.2 243.28,216" fill="none" stroke="#74b3dc" stroke-width="0.85" stroke-linejoin="round"/>
<circle cx="193.78" cy="218.2" r="1.15" fill="#74b3dc"/>
<circle cx="199.28" cy="212.2" r="1.15" fill="#74b3dc"/>
<circle cx="204.78" cy="206.6" r="1.15" fill="#74b3dc"/>
<circle cx="210.28" cy="206.8" r="1.15" fill="#74b3dc"/>
<circle cx="215.78" cy="204.6" r="1.15" fill="#74b3dc"/>
<circle cx="221.28" cy="207.9" r="1.15" fill="#74b3dc"/>
<circle cx="226.78" cy="203.8" r="1.15" fill="#74b3dc"/>
<circle cx="232.28" cy="210.3" r="1.15" fill="#74b3dc"/>
<circle cx="237.78" cy="209.2" r="1.15" fill="#74b3dc"/>
<circle cx="243.28" cy="216" r="1.15" fill="#74b3dc"/>
<polyline points="193.78,217.7 199.28,211.7 204.78,206.1 210.28,206.3 215.78,204.1 221.28,207.4 226.78,203.3 232.28,209.8 237.78,208.7 243.28,215.5" fill="none" stroke="#5496d0" stroke-width="0.85" stroke-linejoin="round"/>
<circle cx="193.78" cy="217.7" r="1.15" fill="#5496d0"/>
<circle cx="199.28" cy="211.7" r="1.15" fill="#5496d0"/>
<circle cx="204.78" cy="206.1" r="1.15" fill="#5496d0"/>
<circle cx="210.28" cy="206.3" r="1.15" fill="#5496d0"/>
<circle cx="215.78" cy="204.1" r="1.15" fill="#5496d0"/>
<circle cx="221.28" cy="207.4" r="1.15" fill="#5496d0"/>
<circle cx="226.78" cy="203.3" r="1.15" fill="#5496d0"/>
<circle cx="232.28" cy="209.8" r="1.15" fill="#5496d0"/>
<circle cx="237.78" cy="208.7" r="1.15" fill="#5496d0"/>
<circle cx="243.28" cy="215.5" r="1.15" fill="#5496d0"/>
<polyline points="193.78,212.8 199.28,206.8 204.78,200.9 210.28,201.6 215.78,200 221.28,203.9 226.78,199.6 232.28,205.8 237.78,206.3 243.28,211.7" fill="none" stroke="#1f5faf" stroke-width="0.95" stroke-linejoin="round"/>
<circle cx="193.78" cy="212.8" r="1.3" fill="#1f5faf"/>
<circle cx="199.28" cy="206.8" r="1.3" fill="#1f5faf"/>
<circle cx="204.78" cy="200.9" r="1.3" fill="#1f5faf"/>
<circle cx="210.28" cy="201.6" r="1.3" fill="#1f5faf"/>
<circle cx="215.78" cy="200" r="1.3" fill="#1f5faf"/>
<circle cx="221.28" cy="203.9" r="1.3" fill="#1f5faf"/>
<circle cx="226.78" cy="199.6" r="1.3" fill="#1f5faf"/>
<circle cx="232.28" cy="205.8" r="1.3" fill="#1f5faf"/>
<circle cx="237.78" cy="206.3" r="1.3" fill="#1f5faf"/>
<circle cx="243.28" cy="211.7" r="1.3" fill="#1f5faf"/>
<rect x="251.07" y="175.35" width="55" height="11.85" fill="#fff" stroke="#111" stroke-width="1.3"/>
<text x="278.57" y="183.9" text-anchor="middle" font-size="6.5" fill="#4a4a4a" stroke="#4a4a4a" stroke-width="0.05">intron 2</text>
<line x1="250.47" x2="306.37" y1="268.4" y2="268.4" stroke="#000" stroke-width="1.2"/>
<line x1="253.67" x2="253.67" y1="268.4" y2="270.4" stroke="#000" stroke-width="0.8"/>
<text transform="translate(255.97,271.6) rotate(-90)" text-anchor="end" font-size="6" fill="#333" stroke="#333" stroke-width="0.15">1</text>
<line x1="259.17" x2="259.17" y1="268.4" y2="270.4" stroke="#000" stroke-width="0.8"/>
<text transform="translate(261.47,271.6) rotate(-90)" text-anchor="end" font-size="6" fill="#333" stroke="#333" stroke-width="0.15">2</text>
<line x1="264.67" x2="264.67" y1="268.4" y2="270.4" stroke="#000" stroke-width="0.8"/>
<text transform="translate(266.97,271.6) rotate(-90)" text-anchor="end" font-size="6" fill="#333" stroke="#333" stroke-width="0.15">3</text>
<line x1="270.17" x2="270.17" y1="268.4" y2="270.4" stroke="#000" stroke-width="0.8"/>
<text transform="translate(272.47,271.6) rotate(-90)" text-anchor="end" font-size="6" fill="#333" stroke="#333" stroke-width="0.15">4</text>
<line x1="275.67" x2="275.67" y1="268.4" y2="270.4" stroke="#000" stroke-width="0.8"/>
<text transform="translate(277.97,271.6) rotate(-90)" text-anchor="end" font-size="6" fill="#333" stroke="#333" stroke-width="0.15">5</text>
<line x1="281.17" x2="281.17" y1="268.4" y2="270.4" stroke="#000" stroke-width="0.8"/>
<text transform="translate(283.47,271.6) rotate(-90)" text-anchor="end" font-size="6" fill="#333" stroke="#333" stroke-width="0.15">6</text>
<line x1="286.67" x2="286.67" y1="268.4" y2="270.4" stroke="#000" stroke-width="0.8"/>
<text transform="translate(288.97,271.6) rotate(-90)" text-anchor="end" font-size="6" fill="#333" stroke="#333" stroke-width="0.15">7</text>
<line x1="292.17" x2="292.17" y1="268.4" y2="270.4" stroke="#000" stroke-width="0.8"/>
<text transform="translate(294.47,271.6) rotate(-90)" text-anchor="end" font-size="6" fill="#333" stroke="#333" stroke-width="0.15">8</text>
<line x1="297.67" x2="297.67" y1="268.4" y2="270.4" stroke="#000" stroke-width="0.8"/>
<text transform="translate(299.97,271.6) rotate(-90)" text-anchor="end" font-size="6" fill="#333" stroke="#333" stroke-width="0.15">9</text>
<line x1="303.17" x2="303.17" y1="268.4" y2="270.4" stroke="#000" stroke-width="0.8"/>
<text transform="translate(305.47,271.6) rotate(-90)" text-anchor="end" font-size="6" fill="#333" stroke="#333" stroke-width="0.15">10</text>
<polyline points="253.67,252.88 259.17,253.48 264.67,254.28 270.17,255.88 275.67,255.98 281.17,257.98 286.67,258.88 292.17,258.48 297.67,259.58 303.17,259.58" fill="none" stroke="#e6eef9" stroke-width="0.85" stroke-linejoin="round"/>
<circle cx="253.67" cy="252.88" r="1.15" fill="#e6eef9"/>
<circle cx="259.17" cy="253.48" r="1.15" fill="#e6eef9"/>
<circle cx="264.67" cy="254.28" r="1.15" fill="#e6eef9"/>
<circle cx="270.17" cy="255.88" r="1.15" fill="#e6eef9"/>
<circle cx="275.67" cy="255.98" r="1.15" fill="#e6eef9"/>
<circle cx="281.17" cy="257.98" r="1.15" fill="#e6eef9"/>
<circle cx="286.67" cy="258.88" r="1.15" fill="#e6eef9"/>
<circle cx="292.17" cy="258.48" r="1.15" fill="#e6eef9"/>
<circle cx="297.67" cy="259.58" r="1.15" fill="#e6eef9"/>
<circle cx="303.17" cy="259.58" r="1.15" fill="#e6eef9"/>
<polyline points="253.67,252.66 259.17,253.26 264.67,254.06 270.17,255.66 275.67,255.76 281.17,257.76 286.67,258.66 292.17,258.26 297.67,259.36 303.17,259.36" fill="none" stroke="#b8d4ea" stroke-width="0.85" stroke-linejoin="round"/>
<circle cx="253.67" cy="252.66" r="1.15" fill="#b8d4ea"/>
<circle cx="259.17" cy="253.26" r="1.15" fill="#b8d4ea"/>
<circle cx="264.67" cy="254.06" r="1.15" fill="#b8d4ea"/>
<circle cx="270.17" cy="255.66" r="1.15" fill="#b8d4ea"/>
<circle cx="275.67" cy="255.76" r="1.15" fill="#b8d4ea"/>
<circle cx="281.17" cy="257.76" r="1.15" fill="#b8d4ea"/>
<circle cx="286.67" cy="258.66" r="1.15" fill="#b8d4ea"/>
<circle cx="292.17" cy="258.26" r="1.15" fill="#b8d4ea"/>
<circle cx="297.67" cy="259.36" r="1.15" fill="#b8d4ea"/>
<circle cx="303.17" cy="259.36" r="1.15" fill="#b8d4ea"/>
<polyline points="253.67,252.44 259.17,253.04 264.67,253.84 270.17,255.44 275.67,255.54 281.17,257.54 286.67,258.44 292.17,258.04 297.67,259.14 303.17,259.14" fill="none" stroke="#74b3dc" stroke-width="0.85" stroke-linejoin="round"/>
<circle cx="253.67" cy="252.44" r="1.15" fill="#74b3dc"/>
<circle cx="259.17" cy="253.04" r="1.15" fill="#74b3dc"/>
<circle cx="264.67" cy="253.84" r="1.15" fill="#74b3dc"/>
<circle cx="270.17" cy="255.44" r="1.15" fill="#74b3dc"/>
<circle cx="275.67" cy="255.54" r="1.15" fill="#74b3dc"/>
<circle cx="281.17" cy="257.54" r="1.15" fill="#74b3dc"/>
<circle cx="286.67" cy="258.44" r="1.15" fill="#74b3dc"/>
<circle cx="292.17" cy="258.04" r="1.15" fill="#74b3dc"/>
<circle cx="297.67" cy="259.14" r="1.15" fill="#74b3dc"/>
<circle cx="303.17" cy="259.14" r="1.15" fill="#74b3dc"/>
<polyline points="253.67,252.22 259.17,252.82 264.67,253.62 270.17,255.22 275.67,255.32 281.17,257.32 286.67,258.22 292.17,257.82 297.67,258.92 303.17,258.92" fill="none" stroke="#5496d0" stroke-width="0.85" stroke-linejoin="round"/>
<circle cx="253.67" cy="252.22" r="1.15" fill="#5496d0"/>
<circle cx="259.17" cy="252.82" r="1.15" fill="#5496d0"/>
<circle cx="264.67" cy="253.62" r="1.15" fill="#5496d0"/>
<circle cx="270.17" cy="255.22" r="1.15" fill="#5496d0"/>
<circle cx="275.67" cy="255.32" r="1.15" fill="#5496d0"/>
<circle cx="281.17" cy="257.32" r="1.15" fill="#5496d0"/>
<circle cx="286.67" cy="258.22" r="1.15" fill="#5496d0"/>
<circle cx="292.17" cy="257.82" r="1.15" fill="#5496d0"/>
<circle cx="297.67" cy="258.92" r="1.15" fill="#5496d0"/>
<circle cx="303.17" cy="258.92" r="1.15" fill="#5496d0"/>
<polyline points="253.67,252 259.17,252.6 264.67,253.4 270.17,255 275.67,255.1 281.17,257.1 286.67,258 292.17,257.6 297.67,258.7 303.17,258.7" fill="none" stroke="#1f5faf" stroke-width="0.95" stroke-linejoin="round"/>
<circle cx="253.67" cy="252" r="1.3" fill="#1f5faf"/>
<circle cx="259.17" cy="252.6" r="1.3" fill="#1f5faf"/>
<circle cx="264.67" cy="253.4" r="1.3" fill="#1f5faf"/>
<circle cx="270.17" cy="255" r="1.3" fill="#1f5faf"/>
<circle cx="275.67" cy="255.1" r="1.3" fill="#1f5faf"/>
<circle cx="281.17" cy="257.1" r="1.3" fill="#1f5faf"/>
<circle cx="286.67" cy="258" r="1.3" fill="#1f5faf"/>
<circle cx="292.17" cy="257.6" r="1.3" fill="#1f5faf"/>
<circle cx="297.67" cy="258.7" r="1.3" fill="#1f5faf"/>
<circle cx="303.17" cy="258.7" r="1.3" fill="#1f5faf"/>
<rect x="310.46" y="187.8" width="55.5" height="80.6" fill="#eaf1f9"/>
<rect x="310.96" y="175.35" width="55" height="11.85" fill="#eaf1f9" stroke="#111" stroke-width="1.3"/>
<text x="338.46" y="183.9" text-anchor="middle" font-size="6.5" fill="#4a4a4a" stroke="#4a4a4a" stroke-width="0.05">exon 3</text>
<line x1="310.36" x2="366.26" y1="268.4" y2="268.4" stroke="#000" stroke-width="1.2"/>
<line x1="313.56" x2="313.56" y1="268.4" y2="270.4" stroke="#000" stroke-width="0.8"/>
<text transform="translate(315.86,271.6) rotate(-90)" text-anchor="end" font-size="6" fill="#333" stroke="#333" stroke-width="0.15">1</text>
<line x1="319.06" x2="319.06" y1="268.4" y2="270.4" stroke="#000" stroke-width="0.8"/>
<text transform="translate(321.36,271.6) rotate(-90)" text-anchor="end" font-size="6" fill="#333" stroke="#333" stroke-width="0.15">2</text>
<line x1="324.56" x2="324.56" y1="268.4" y2="270.4" stroke="#000" stroke-width="0.8"/>
<text transform="translate(326.86,271.6) rotate(-90)" text-anchor="end" font-size="6" fill="#333" stroke="#333" stroke-width="0.15">3</text>
<line x1="330.06" x2="330.06" y1="268.4" y2="270.4" stroke="#000" stroke-width="0.8"/>
<text transform="translate(332.36,271.6) rotate(-90)" text-anchor="end" font-size="6" fill="#333" stroke="#333" stroke-width="0.15">4</text>
<line x1="335.56" x2="335.56" y1="268.4" y2="270.4" stroke="#000" stroke-width="0.8"/>
<text transform="translate(337.86,271.6) rotate(-90)" text-anchor="end" font-size="6" fill="#333" stroke="#333" stroke-width="0.15">5</text>
<line x1="341.06" x2="341.06" y1="268.4" y2="270.4" stroke="#000" stroke-width="0.8"/>
<text transform="translate(343.36,271.6) rotate(-90)" text-anchor="end" font-size="6" fill="#333" stroke="#333" stroke-width="0.15">6</text>
<line x1="346.56" x2="346.56" y1="268.4" y2="270.4" stroke="#000" stroke-width="0.8"/>
<text transform="translate(348.86,271.6) rotate(-90)" text-anchor="end" font-size="6" fill="#333" stroke="#333" stroke-width="0.15">7</text>
<line x1="352.06" x2="352.06" y1="268.4" y2="270.4" stroke="#000" stroke-width="0.8"/>
<text transform="translate(354.36,271.6) rotate(-90)" text-anchor="end" font-size="6" fill="#333" stroke="#333" stroke-width="0.15">8</text>
<line x1="357.56" x2="357.56" y1="268.4" y2="270.4" stroke="#000" stroke-width="0.8"/>
<text transform="translate(359.86,271.6) rotate(-90)" text-anchor="end" font-size="6" fill="#333" stroke="#333" stroke-width="0.15">9</text>
<line x1="363.06" x2="363.06" y1="268.4" y2="270.4" stroke="#000" stroke-width="0.8"/>
<text transform="translate(365.36,271.6) rotate(-90)" text-anchor="end" font-size="6" fill="#333" stroke="#333" stroke-width="0.15">10</text>
<polyline points="313.56,198.9 319.06,198.5 324.56,203.3 330.06,202.4 335.56,206.4 341.06,208.2 346.56,211.3 352.06,215.7 357.56,218.8 363.06,220" fill="none" stroke="#e6eef9" stroke-width="0.85" stroke-linejoin="round"/>
<circle cx="313.56" cy="198.9" r="1.15" fill="#e6eef9"/>
<circle cx="319.06" cy="198.5" r="1.15" fill="#e6eef9"/>
<circle cx="324.56" cy="203.3" r="1.15" fill="#e6eef9"/>
<circle cx="330.06" cy="202.4" r="1.15" fill="#e6eef9"/>
<circle cx="335.56" cy="206.4" r="1.15" fill="#e6eef9"/>
<circle cx="341.06" cy="208.2" r="1.15" fill="#e6eef9"/>
<circle cx="346.56" cy="211.3" r="1.15" fill="#e6eef9"/>
<circle cx="352.06" cy="215.7" r="1.15" fill="#e6eef9"/>
<circle cx="357.56" cy="218.8" r="1.15" fill="#e6eef9"/>
<circle cx="363.06" cy="220" r="1.15" fill="#e6eef9"/>
<polyline points="313.56,198.4 319.06,198 324.56,202.8 330.06,201.9 335.56,205.9 341.06,207.7 346.56,210.8 352.06,215.2 357.56,218.3 363.06,219.5" fill="none" stroke="#b8d4ea" stroke-width="0.85" stroke-linejoin="round"/>
<circle cx="313.56" cy="198.4" r="1.15" fill="#b8d4ea"/>
<circle cx="319.06" cy="198" r="1.15" fill="#b8d4ea"/>
<circle cx="324.56" cy="202.8" r="1.15" fill="#b8d4ea"/>
<circle cx="330.06" cy="201.9" r="1.15" fill="#b8d4ea"/>
<circle cx="335.56" cy="205.9" r="1.15" fill="#b8d4ea"/>
<circle cx="341.06" cy="207.7" r="1.15" fill="#b8d4ea"/>
<circle cx="346.56" cy="210.8" r="1.15" fill="#b8d4ea"/>
<circle cx="352.06" cy="215.2" r="1.15" fill="#b8d4ea"/>
<circle cx="357.56" cy="218.3" r="1.15" fill="#b8d4ea"/>
<circle cx="363.06" cy="219.5" r="1.15" fill="#b8d4ea"/>
<polyline points="313.56,197.9 319.06,197.5 324.56,202.3 330.06,201.4 335.56,205.4 341.06,207.2 346.56,210.3 352.06,214.7 357.56,217.8 363.06,219" fill="none" stroke="#74b3dc" stroke-width="0.85" stroke-linejoin="round"/>
<circle cx="313.56" cy="197.9" r="1.15" fill="#74b3dc"/>
<circle cx="319.06" cy="197.5" r="1.15" fill="#74b3dc"/>
<circle cx="324.56" cy="202.3" r="1.15" fill="#74b3dc"/>
<circle cx="330.06" cy="201.4" r="1.15" fill="#74b3dc"/>
<circle cx="335.56" cy="205.4" r="1.15" fill="#74b3dc"/>
<circle cx="341.06" cy="207.2" r="1.15" fill="#74b3dc"/>
<circle cx="346.56" cy="210.3" r="1.15" fill="#74b3dc"/>
<circle cx="352.06" cy="214.7" r="1.15" fill="#74b3dc"/>
<circle cx="357.56" cy="217.8" r="1.15" fill="#74b3dc"/>
<circle cx="363.06" cy="219" r="1.15" fill="#74b3dc"/>
<polyline points="313.56,197.4 319.06,197 324.56,201.8 330.06,200.9 335.56,204.9 341.06,206.7 346.56,209.8 352.06,214.2 357.56,217.3 363.06,218.5" fill="none" stroke="#5496d0" stroke-width="0.85" stroke-linejoin="round"/>
<circle cx="313.56" cy="197.4" r="1.15" fill="#5496d0"/>
<circle cx="319.06" cy="197" r="1.15" fill="#5496d0"/>
<circle cx="324.56" cy="201.8" r="1.15" fill="#5496d0"/>
<circle cx="330.06" cy="200.9" r="1.15" fill="#5496d0"/>
<circle cx="335.56" cy="204.9" r="1.15" fill="#5496d0"/>
<circle cx="341.06" cy="206.7" r="1.15" fill="#5496d0"/>
<circle cx="346.56" cy="209.8" r="1.15" fill="#5496d0"/>
<circle cx="352.06" cy="214.2" r="1.15" fill="#5496d0"/>
<circle cx="357.56" cy="217.3" r="1.15" fill="#5496d0"/>
<circle cx="363.06" cy="218.5" r="1.15" fill="#5496d0"/>
<polyline points="313.56,191.2 319.06,191.8 324.56,197.4 330.06,197 335.56,200.9 341.06,200.9 346.56,205.2 352.06,211.1 357.56,213.6 363.06,214.2" fill="none" stroke="#1f5faf" stroke-width="0.95" stroke-linejoin="round"/>
<circle cx="313.56" cy="191.2" r="1.3" fill="#1f5faf"/>
<circle cx="319.06" cy="191.8" r="1.3" fill="#1f5faf"/>
<circle cx="324.56" cy="197.4" r="1.3" fill="#1f5faf"/>
<circle cx="330.06" cy="197" r="1.3" fill="#1f5faf"/>
<circle cx="335.56" cy="200.9" r="1.3" fill="#1f5faf"/>
<circle cx="341.06" cy="200.9" r="1.3" fill="#1f5faf"/>
<circle cx="346.56" cy="205.2" r="1.3" fill="#1f5faf"/>
<circle cx="352.06" cy="211.1" r="1.3" fill="#1f5faf"/>
<circle cx="357.56" cy="213.6" r="1.3" fill="#1f5faf"/>
<circle cx="363.06" cy="214.2" r="1.3" fill="#1f5faf"/>
<rect x="370.85" y="175.35" width="55" height="11.85" fill="#fff" stroke="#111" stroke-width="1.3"/>
<text x="398.35" y="183.9" text-anchor="middle" font-size="6.5" fill="#4a4a4a" stroke="#4a4a4a" stroke-width="0.05">intron 3</text>
<line x1="370.25" x2="426.15" y1="268.4" y2="268.4" stroke="#000" stroke-width="1.2"/>
<line x1="373.45" x2="373.45" y1="268.4" y2="270.4" stroke="#000" stroke-width="0.8"/>
<text transform="translate(375.75,271.6) rotate(-90)" text-anchor="end" font-size="6" fill="#333" stroke="#333" stroke-width="0.15">1</text>
<line x1="378.95" x2="378.95" y1="268.4" y2="270.4" stroke="#000" stroke-width="0.8"/>
<text transform="translate(381.25,271.6) rotate(-90)" text-anchor="end" font-size="6" fill="#333" stroke="#333" stroke-width="0.15">2</text>
<line x1="384.45" x2="384.45" y1="268.4" y2="270.4" stroke="#000" stroke-width="0.8"/>
<text transform="translate(386.75,271.6) rotate(-90)" text-anchor="end" font-size="6" fill="#333" stroke="#333" stroke-width="0.15">3</text>
<line x1="389.95" x2="389.95" y1="268.4" y2="270.4" stroke="#000" stroke-width="0.8"/>
<text transform="translate(392.25,271.6) rotate(-90)" text-anchor="end" font-size="6" fill="#333" stroke="#333" stroke-width="0.15">4</text>
<line x1="395.45" x2="395.45" y1="268.4" y2="270.4" stroke="#000" stroke-width="0.8"/>
<text transform="translate(397.75,271.6) rotate(-90)" text-anchor="end" font-size="6" fill="#333" stroke="#333" stroke-width="0.15">5</text>
<line x1="400.95" x2="400.95" y1="268.4" y2="270.4" stroke="#000" stroke-width="0.8"/>
<text transform="translate(403.25,271.6) rotate(-90)" text-anchor="end" font-size="6" fill="#333" stroke="#333" stroke-width="0.15">6</text>
<line x1="406.45" x2="406.45" y1="268.4" y2="270.4" stroke="#000" stroke-width="0.8"/>
<text transform="translate(408.75,271.6) rotate(-90)" text-anchor="end" font-size="6" fill="#333" stroke="#333" stroke-width="0.15">7</text>
<line x1="411.95" x2="411.95" y1="268.4" y2="270.4" stroke="#000" stroke-width="0.8"/>
<text transform="translate(414.25,271.6) rotate(-90)" text-anchor="end" font-size="6" fill="#333" stroke="#333" stroke-width="0.15">8</text>
<line x1="417.45" x2="417.45" y1="268.4" y2="270.4" stroke="#000" stroke-width="0.8"/>
<text transform="translate(419.75,271.6) rotate(-90)" text-anchor="end" font-size="6" fill="#333" stroke="#333" stroke-width="0.15">9</text>
<line x1="422.95" x2="422.95" y1="268.4" y2="270.4" stroke="#000" stroke-width="0.8"/>
<text transform="translate(425.25,271.6) rotate(-90)" text-anchor="end" font-size="6" fill="#333" stroke="#333" stroke-width="0.15">10</text>
<polyline points="373.45,252.38 378.95,252.98 384.45,255.58 389.95,255.88 395.45,257.28 400.95,259.08 406.45,260.08 411.95,258.48 417.45,260.28 422.95,261.28" fill="none" stroke="#e6eef9" stroke-width="0.85" stroke-linejoin="round"/>
<circle cx="373.45" cy="252.38" r="1.15" fill="#e6eef9"/>
<circle cx="378.95" cy="252.98" r="1.15" fill="#e6eef9"/>
<circle cx="384.45" cy="255.58" r="1.15" fill="#e6eef9"/>
<circle cx="389.95" cy="255.88" r="1.15" fill="#e6eef9"/>
<circle cx="395.45" cy="257.28" r="1.15" fill="#e6eef9"/>
<circle cx="400.95" cy="259.08" r="1.15" fill="#e6eef9"/>
<circle cx="406.45" cy="260.08" r="1.15" fill="#e6eef9"/>
<circle cx="411.95" cy="258.48" r="1.15" fill="#e6eef9"/>
<circle cx="417.45" cy="260.28" r="1.15" fill="#e6eef9"/>
<circle cx="422.95" cy="261.28" r="1.15" fill="#e6eef9"/>
<polyline points="373.45,252.16 378.95,252.76 384.45,255.36 389.95,255.66 395.45,257.06 400.95,258.86 406.45,259.86 411.95,258.26 417.45,260.06 422.95,261.06" fill="none" stroke="#b8d4ea" stroke-width="0.85" stroke-linejoin="round"/>
<circle cx="373.45" cy="252.16" r="1.15" fill="#b8d4ea"/>
<circle cx="378.95" cy="252.76" r="1.15" fill="#b8d4ea"/>
<circle cx="384.45" cy="255.36" r="1.15" fill="#b8d4ea"/>
<circle cx="389.95" cy="255.66" r="1.15" fill="#b8d4ea"/>
<circle cx="395.45" cy="257.06" r="1.15" fill="#b8d4ea"/>
<circle cx="400.95" cy="258.86" r="1.15" fill="#b8d4ea"/>
<circle cx="406.45" cy="259.86" r="1.15" fill="#b8d4ea"/>
<circle cx="411.95" cy="258.26" r="1.15" fill="#b8d4ea"/>
<circle cx="417.45" cy="260.06" r="1.15" fill="#b8d4ea"/>
<circle cx="422.95" cy="261.06" r="1.15" fill="#b8d4ea"/>
<polyline points="373.45,251.94 378.95,252.54 384.45,255.14 389.95,255.44 395.45,256.84 400.95,258.64 406.45,259.64 411.95,258.04 417.45,259.84 422.95,260.84" fill="none" stroke="#74b3dc" stroke-width="0.85" stroke-linejoin="round"/>
<circle cx="373.45" cy="251.94" r="1.15" fill="#74b3dc"/>
<circle cx="378.95" cy="252.54" r="1.15" fill="#74b3dc"/>
<circle cx="384.45" cy="255.14" r="1.15" fill="#74b3dc"/>
<circle cx="389.95" cy="255.44" r="1.15" fill="#74b3dc"/>
<circle cx="395.45" cy="256.84" r="1.15" fill="#74b3dc"/>
<circle cx="400.95" cy="258.64" r="1.15" fill="#74b3dc"/>
<circle cx="406.45" cy="259.64" r="1.15" fill="#74b3dc"/>
<circle cx="411.95" cy="258.04" r="1.15" fill="#74b3dc"/>
<circle cx="417.45" cy="259.84" r="1.15" fill="#74b3dc"/>
<circle cx="422.95" cy="260.84" r="1.15" fill="#74b3dc"/>
<polyline points="373.45,251.72 378.95,252.32 384.45,254.92 389.95,255.22 395.45,256.62 400.95,258.42 406.45,259.42 411.95,257.82 417.45,259.62 422.95,260.62" fill="none" stroke="#5496d0" stroke-width="0.85" stroke-linejoin="round"/>
<circle cx="373.45" cy="251.72" r="1.15" fill="#5496d0"/>
<circle cx="378.95" cy="252.32" r="1.15" fill="#5496d0"/>
<circle cx="384.45" cy="254.92" r="1.15" fill="#5496d0"/>
<circle cx="389.95" cy="255.22" r="1.15" fill="#5496d0"/>
<circle cx="395.45" cy="256.62" r="1.15" fill="#5496d0"/>
<circle cx="400.95" cy="258.42" r="1.15" fill="#5496d0"/>
<circle cx="406.45" cy="259.42" r="1.15" fill="#5496d0"/>
<circle cx="411.95" cy="257.82" r="1.15" fill="#5496d0"/>
<circle cx="417.45" cy="259.62" r="1.15" fill="#5496d0"/>
<circle cx="422.95" cy="260.62" r="1.15" fill="#5496d0"/>
<polyline points="373.45,251.5 378.95,252.1 384.45,254.7 389.95,255 395.45,256.4 400.95,258.2 406.45,259.2 411.95,257.6 417.45,259.4 422.95,260.4" fill="none" stroke="#1f5faf" stroke-width="0.95" stroke-linejoin="round"/>
<circle cx="373.45" cy="251.5" r="1.3" fill="#1f5faf"/>
<circle cx="378.95" cy="252.1" r="1.3" fill="#1f5faf"/>
<circle cx="384.45" cy="254.7" r="1.3" fill="#1f5faf"/>
<circle cx="389.95" cy="255" r="1.3" fill="#1f5faf"/>
<circle cx="395.45" cy="256.4" r="1.3" fill="#1f5faf"/>
<circle cx="400.95" cy="258.2" r="1.3" fill="#1f5faf"/>
<circle cx="406.45" cy="259.2" r="1.3" fill="#1f5faf"/>
<circle cx="411.95" cy="257.6" r="1.3" fill="#1f5faf"/>
<circle cx="417.45" cy="259.4" r="1.3" fill="#1f5faf"/>
<circle cx="422.95" cy="260.4" r="1.3" fill="#1f5faf"/>
<rect x="430.24" y="187.8" width="55.5" height="80.6" fill="#eaf1f9"/>
<rect x="430.74" y="175.35" width="55" height="11.85" fill="#eaf1f9" stroke="#111" stroke-width="1.3"/>
<text x="458.24" y="183.9" text-anchor="middle" font-size="6.5" fill="#4a4a4a" stroke="#4a4a4a" stroke-width="0.05">exon 4</text>
<line x1="430.14" x2="486.04" y1="268.4" y2="268.4" stroke="#000" stroke-width="1.2"/>
<line x1="433.34" x2="433.34" y1="268.4" y2="270.4" stroke="#000" stroke-width="0.8"/>
<text transform="translate(435.64,271.6) rotate(-90)" text-anchor="end" font-size="6" fill="#333" stroke="#333" stroke-width="0.15">1</text>
<line x1="438.84" x2="438.84" y1="268.4" y2="270.4" stroke="#000" stroke-width="0.8"/>
<text transform="translate(441.14,271.6) rotate(-90)" text-anchor="end" font-size="6" fill="#333" stroke="#333" stroke-width="0.15">2</text>
<line x1="444.34" x2="444.34" y1="268.4" y2="270.4" stroke="#000" stroke-width="0.8"/>
<text transform="translate(446.64,271.6) rotate(-90)" text-anchor="end" font-size="6" fill="#333" stroke="#333" stroke-width="0.15">3</text>
<line x1="449.84" x2="449.84" y1="268.4" y2="270.4" stroke="#000" stroke-width="0.8"/>
<text transform="translate(452.14,271.6) rotate(-90)" text-anchor="end" font-size="6" fill="#333" stroke="#333" stroke-width="0.15">4</text>
<line x1="455.34" x2="455.34" y1="268.4" y2="270.4" stroke="#000" stroke-width="0.8"/>
<text transform="translate(457.64,271.6) rotate(-90)" text-anchor="end" font-size="6" fill="#333" stroke="#333" stroke-width="0.15">5</text>
<line x1="460.84" x2="460.84" y1="268.4" y2="270.4" stroke="#000" stroke-width="0.8"/>
<text transform="translate(463.14,271.6) rotate(-90)" text-anchor="end" font-size="6" fill="#333" stroke="#333" stroke-width="0.15">6</text>
<line x1="466.34" x2="466.34" y1="268.4" y2="270.4" stroke="#000" stroke-width="0.8"/>
<text transform="translate(468.64,271.6) rotate(-90)" text-anchor="end" font-size="6" fill="#333" stroke="#333" stroke-width="0.15">7</text>
<line x1="471.84" x2="471.84" y1="268.4" y2="270.4" stroke="#000" stroke-width="0.8"/>
<text transform="translate(474.14,271.6) rotate(-90)" text-anchor="end" font-size="6" fill="#333" stroke="#333" stroke-width="0.15">8</text>
<line x1="477.34" x2="477.34" y1="268.4" y2="270.4" stroke="#000" stroke-width="0.8"/>
<text transform="translate(479.64,271.6) rotate(-90)" text-anchor="end" font-size="6" fill="#333" stroke="#333" stroke-width="0.15">9</text>
<line x1="482.84" x2="482.84" y1="268.4" y2="270.4" stroke="#000" stroke-width="0.8"/>
<text transform="translate(485.14,271.6) rotate(-90)" text-anchor="end" font-size="6" fill="#333" stroke="#333" stroke-width="0.15">10</text>
<polyline points="433.34,228.2 438.84,232.6 444.34,232.6 449.84,232.3 455.34,233.7 460.84,235 466.34,236.6 471.84,235.8 477.34,240.6 482.84,240.2" fill="none" stroke="#e6eef9" stroke-width="0.85" stroke-linejoin="round"/>
<circle cx="433.34" cy="228.2" r="1.15" fill="#e6eef9"/>
<circle cx="438.84" cy="232.6" r="1.15" fill="#e6eef9"/>
<circle cx="444.34" cy="232.6" r="1.15" fill="#e6eef9"/>
<circle cx="449.84" cy="232.3" r="1.15" fill="#e6eef9"/>
<circle cx="455.34" cy="233.7" r="1.15" fill="#e6eef9"/>
<circle cx="460.84" cy="235" r="1.15" fill="#e6eef9"/>
<circle cx="466.34" cy="236.6" r="1.15" fill="#e6eef9"/>
<circle cx="471.84" cy="235.8" r="1.15" fill="#e6eef9"/>
<circle cx="477.34" cy="240.6" r="1.15" fill="#e6eef9"/>
<circle cx="482.84" cy="240.2" r="1.15" fill="#e6eef9"/>
<polyline points="433.34,227.7 438.84,232.1 444.34,232.1 449.84,231.8 455.34,233.2 460.84,234.5 466.34,236.1 471.84,235.3 477.34,240.1 482.84,239.7" fill="none" stroke="#b8d4ea" stroke-width="0.85" stroke-linejoin="round"/>
<circle cx="433.34" cy="227.7" r="1.15" fill="#b8d4ea"/>
<circle cx="438.84" cy="232.1" r="1.15" fill="#b8d4ea"/>
<circle cx="444.34" cy="232.1" r="1.15" fill="#b8d4ea"/>
<circle cx="449.84" cy="231.8" r="1.15" fill="#b8d4ea"/>
<circle cx="455.34" cy="233.2" r="1.15" fill="#b8d4ea"/>
<circle cx="460.84" cy="234.5" r="1.15" fill="#b8d4ea"/>
<circle cx="466.34" cy="236.1" r="1.15" fill="#b8d4ea"/>
<circle cx="471.84" cy="235.3" r="1.15" fill="#b8d4ea"/>
<circle cx="477.34" cy="240.1" r="1.15" fill="#b8d4ea"/>
<circle cx="482.84" cy="239.7" r="1.15" fill="#b8d4ea"/>
<polyline points="433.34,227.2 438.84,231.6 444.34,231.6 449.84,231.3 455.34,232.7 460.84,234 466.34,235.6 471.84,234.8 477.34,239.6 482.84,239.2" fill="none" stroke="#74b3dc" stroke-width="0.85" stroke-linejoin="round"/>
<circle cx="433.34" cy="227.2" r="1.15" fill="#74b3dc"/>
<circle cx="438.84" cy="231.6" r="1.15" fill="#74b3dc"/>
<circle cx="444.34" cy="231.6" r="1.15" fill="#74b3dc"/>
<circle cx="449.84" cy="231.3" r="1.15" fill="#74b3dc"/>
<circle cx="455.34" cy="232.7" r="1.15" fill="#74b3dc"/>
<circle cx="460.84" cy="234" r="1.15" fill="#74b3dc"/>
<circle cx="466.34" cy="235.6" r="1.15" fill="#74b3dc"/>
<circle cx="471.84" cy="234.8" r="1.15" fill="#74b3dc"/>
<circle cx="477.34" cy="239.6" r="1.15" fill="#74b3dc"/>
<circle cx="482.84" cy="239.2" r="1.15" fill="#74b3dc"/>
<polyline points="433.34,226.7 438.84,231.1 444.34,231.1 449.84,230.8 455.34,232.2 460.84,233.5 466.34,235.1 471.84,234.3 477.34,239.1 482.84,238.7" fill="none" stroke="#5496d0" stroke-width="0.85" stroke-linejoin="round"/>
<circle cx="433.34" cy="226.7" r="1.15" fill="#5496d0"/>
<circle cx="438.84" cy="231.1" r="1.15" fill="#5496d0"/>
<circle cx="444.34" cy="231.1" r="1.15" fill="#5496d0"/>
<circle cx="449.84" cy="230.8" r="1.15" fill="#5496d0"/>
<circle cx="455.34" cy="232.2" r="1.15" fill="#5496d0"/>
<circle cx="460.84" cy="233.5" r="1.15" fill="#5496d0"/>
<circle cx="466.34" cy="235.1" r="1.15" fill="#5496d0"/>
<circle cx="471.84" cy="234.3" r="1.15" fill="#5496d0"/>
<circle cx="477.34" cy="239.1" r="1.15" fill="#5496d0"/>
<circle cx="482.84" cy="238.7" r="1.15" fill="#5496d0"/>
<polyline points="433.34,222.6 438.84,227.3 444.34,228.6 449.84,228 455.34,230.2 460.84,229.3 466.34,232.1 471.84,232.1 477.34,237.6 482.84,235.1" fill="none" stroke="#1f5faf" stroke-width="0.95" stroke-linejoin="round"/>
<circle cx="433.34" cy="222.6" r="1.3" fill="#1f5faf"/>
<circle cx="438.84" cy="227.3" r="1.3" fill="#1f5faf"/>
<circle cx="444.34" cy="228.6" r="1.3" fill="#1f5faf"/>
<circle cx="449.84" cy="228" r="1.3" fill="#1f5faf"/>
<circle cx="455.34" cy="230.2" r="1.3" fill="#1f5faf"/>
<circle cx="460.84" cy="229.3" r="1.3" fill="#1f5faf"/>
<circle cx="466.34" cy="232.1" r="1.3" fill="#1f5faf"/>
<circle cx="471.84" cy="232.1" r="1.3" fill="#1f5faf"/>
<circle cx="477.34" cy="237.6" r="1.3" fill="#1f5faf"/>
<circle cx="482.84" cy="235.1" r="1.3" fill="#1f5faf"/>
<rect x="490.63" y="175.35" width="55" height="11.85" fill="#fff" stroke="#111" stroke-width="1.3"/>
<text x="518.13" y="183.9" text-anchor="middle" font-size="6.5" fill="#4a4a4a" stroke="#4a4a4a" stroke-width="0.05">intron 4</text>
<line x1="490.03" x2="545.93" y1="268.4" y2="268.4" stroke="#000" stroke-width="1.2"/>
<line x1="493.23" x2="493.23" y1="268.4" y2="270.4" stroke="#000" stroke-width="0.8"/>
<text transform="translate(495.53,271.6) rotate(-90)" text-anchor="end" font-size="6" fill="#333" stroke="#333" stroke-width="0.15">1</text>
<line x1="498.73" x2="498.73" y1="268.4" y2="270.4" stroke="#000" stroke-width="0.8"/>
<text transform="translate(501.03,271.6) rotate(-90)" text-anchor="end" font-size="6" fill="#333" stroke="#333" stroke-width="0.15">2</text>
<line x1="504.23" x2="504.23" y1="268.4" y2="270.4" stroke="#000" stroke-width="0.8"/>
<text transform="translate(506.53,271.6) rotate(-90)" text-anchor="end" font-size="6" fill="#333" stroke="#333" stroke-width="0.15">3</text>
<line x1="509.73" x2="509.73" y1="268.4" y2="270.4" stroke="#000" stroke-width="0.8"/>
<text transform="translate(512.03,271.6) rotate(-90)" text-anchor="end" font-size="6" fill="#333" stroke="#333" stroke-width="0.15">4</text>
<line x1="515.23" x2="515.23" y1="268.4" y2="270.4" stroke="#000" stroke-width="0.8"/>
<text transform="translate(517.53,271.6) rotate(-90)" text-anchor="end" font-size="6" fill="#333" stroke="#333" stroke-width="0.15">5</text>
<line x1="520.73" x2="520.73" y1="268.4" y2="270.4" stroke="#000" stroke-width="0.8"/>
<text transform="translate(523.03,271.6) rotate(-90)" text-anchor="end" font-size="6" fill="#333" stroke="#333" stroke-width="0.15">6</text>
<line x1="526.23" x2="526.23" y1="268.4" y2="270.4" stroke="#000" stroke-width="0.8"/>
<text transform="translate(528.53,271.6) rotate(-90)" text-anchor="end" font-size="6" fill="#333" stroke="#333" stroke-width="0.15">7</text>
<line x1="531.73" x2="531.73" y1="268.4" y2="270.4" stroke="#000" stroke-width="0.8"/>
<text transform="translate(534.03,271.6) rotate(-90)" text-anchor="end" font-size="6" fill="#333" stroke="#333" stroke-width="0.15">8</text>
<line x1="537.23" x2="537.23" y1="268.4" y2="270.4" stroke="#000" stroke-width="0.8"/>
<text transform="translate(539.53,271.6) rotate(-90)" text-anchor="end" font-size="6" fill="#333" stroke="#333" stroke-width="0.15">9</text>
<line x1="542.73" x2="542.73" y1="268.4" y2="270.4" stroke="#000" stroke-width="0.8"/>
<text transform="translate(545.03,271.6) rotate(-90)" text-anchor="end" font-size="6" fill="#333" stroke="#333" stroke-width="0.15">10</text>
<polyline points="493.23,255.18 498.73,257.08 504.23,258.78 509.73,258.68 515.23,261.28 520.73,260.98 526.23,262.58 531.73,262.38 537.23,262.18 542.73,264.28" fill="none" stroke="#e6eef9" stroke-width="0.85" stroke-linejoin="round"/>
<circle cx="493.23" cy="255.18" r="1.15" fill="#e6eef9"/>
<circle cx="498.73" cy="257.08" r="1.15" fill="#e6eef9"/>
<circle cx="504.23" cy="258.78" r="1.15" fill="#e6eef9"/>
<circle cx="509.73" cy="258.68" r="1.15" fill="#e6eef9"/>
<circle cx="515.23" cy="261.28" r="1.15" fill="#e6eef9"/>
<circle cx="520.73" cy="260.98" r="1.15" fill="#e6eef9"/>
<circle cx="526.23" cy="262.58" r="1.15" fill="#e6eef9"/>
<circle cx="531.73" cy="262.38" r="1.15" fill="#e6eef9"/>
<circle cx="537.23" cy="262.18" r="1.15" fill="#e6eef9"/>
<circle cx="542.73" cy="264.28" r="1.15" fill="#e6eef9"/>
<polyline points="493.23,254.96 498.73,256.86 504.23,258.56 509.73,258.46 515.23,261.06 520.73,260.76 526.23,262.36 531.73,262.16 537.23,261.96 542.73,264.06" fill="none" stroke="#b8d4ea" stroke-width="0.85" stroke-linejoin="round"/>
<circle cx="493.23" cy="254.96" r="1.15" fill="#b8d4ea"/>
<circle cx="498.73" cy="256.86" r="1.15" fill="#b8d4ea"/>
<circle cx="504.23" cy="258.56" r="1.15" fill="#b8d4ea"/>
<circle cx="509.73" cy="258.46" r="1.15" fill="#b8d4ea"/>
<circle cx="515.23" cy="261.06" r="1.15" fill="#b8d4ea"/>
<circle cx="520.73" cy="260.76" r="1.15" fill="#b8d4ea"/>
<circle cx="526.23" cy="262.36" r="1.15" fill="#b8d4ea"/>
<circle cx="531.73" cy="262.16" r="1.15" fill="#b8d4ea"/>
<circle cx="537.23" cy="261.96" r="1.15" fill="#b8d4ea"/>
<circle cx="542.73" cy="264.06" r="1.15" fill="#b8d4ea"/>
<polyline points="493.23,254.74 498.73,256.64 504.23,258.34 509.73,258.24 515.23,260.84 520.73,260.54 526.23,262.14 531.73,261.94 537.23,261.74 542.73,263.84" fill="none" stroke="#74b3dc" stroke-width="0.85" stroke-linejoin="round"/>
<circle cx="493.23" cy="254.74" r="1.15" fill="#74b3dc"/>
<circle cx="498.73" cy="256.64" r="1.15" fill="#74b3dc"/>
<circle cx="504.23" cy="258.34" r="1.15" fill="#74b3dc"/>
<circle cx="509.73" cy="258.24" r="1.15" fill="#74b3dc"/>
<circle cx="515.23" cy="260.84" r="1.15" fill="#74b3dc"/>
<circle cx="520.73" cy="260.54" r="1.15" fill="#74b3dc"/>
<circle cx="526.23" cy="262.14" r="1.15" fill="#74b3dc"/>
<circle cx="531.73" cy="261.94" r="1.15" fill="#74b3dc"/>
<circle cx="537.23" cy="261.74" r="1.15" fill="#74b3dc"/>
<circle cx="542.73" cy="263.84" r="1.15" fill="#74b3dc"/>
<polyline points="493.23,254.52 498.73,256.42 504.23,258.12 509.73,258.02 515.23,260.62 520.73,260.32 526.23,261.92 531.73,261.72 537.23,261.52 542.73,263.62" fill="none" stroke="#5496d0" stroke-width="0.85" stroke-linejoin="round"/>
<circle cx="493.23" cy="254.52" r="1.15" fill="#5496d0"/>
<circle cx="498.73" cy="256.42" r="1.15" fill="#5496d0"/>
<circle cx="504.23" cy="258.12" r="1.15" fill="#5496d0"/>
<circle cx="509.73" cy="258.02" r="1.15" fill="#5496d0"/>
<circle cx="515.23" cy="260.62" r="1.15" fill="#5496d0"/>
<circle cx="520.73" cy="260.32" r="1.15" fill="#5496d0"/>
<circle cx="526.23" cy="261.92" r="1.15" fill="#5496d0"/>
<circle cx="531.73" cy="261.72" r="1.15" fill="#5496d0"/>
<circle cx="537.23" cy="261.52" r="1.15" fill="#5496d0"/>
<circle cx="542.73" cy="263.62" r="1.15" fill="#5496d0"/>
<polyline points="493.23,254.3 498.73,256.2 504.23,257.9 509.73,257.8 515.23,260.4 520.73,260.1 526.23,261.7 531.73,261.5 537.23,261.3 542.73,263.4" fill="none" stroke="#1f5faf" stroke-width="0.95" stroke-linejoin="round"/>
<circle cx="493.23" cy="254.3" r="1.3" fill="#1f5faf"/>
<circle cx="498.73" cy="256.2" r="1.3" fill="#1f5faf"/>
<circle cx="504.23" cy="257.9" r="1.3" fill="#1f5faf"/>
<circle cx="509.73" cy="257.8" r="1.3" fill="#1f5faf"/>
<circle cx="515.23" cy="260.4" r="1.3" fill="#1f5faf"/>
<circle cx="520.73" cy="260.1" r="1.3" fill="#1f5faf"/>
<circle cx="526.23" cy="261.7" r="1.3" fill="#1f5faf"/>
<circle cx="531.73" cy="261.5" r="1.3" fill="#1f5faf"/>
<circle cx="537.23" cy="261.3" r="1.3" fill="#1f5faf"/>
<circle cx="542.73" cy="263.4" r="1.3" fill="#1f5faf"/>
<rect x="550.02" y="187.8" width="55.5" height="80.6" fill="#eaf1f9"/>
<rect x="550.52" y="175.35" width="55" height="11.85" fill="#eaf1f9" stroke="#111" stroke-width="1.3"/>
<text x="578.02" y="183.9" text-anchor="middle" font-size="6.5" fill="#4a4a4a" stroke="#4a4a4a" stroke-width="0.05">exon 5</text>
<line x1="549.92" x2="605.82" y1="268.4" y2="268.4" stroke="#000" stroke-width="1.2"/>
<line x1="553.12" x2="553.12" y1="268.4" y2="270.4" stroke="#000" stroke-width="0.8"/>
<text transform="translate(555.42,271.6) rotate(-90)" text-anchor="end" font-size="6" fill="#333" stroke="#333" stroke-width="0.15">1</text>
<line x1="558.62" x2="558.62" y1="268.4" y2="270.4" stroke="#000" stroke-width="0.8"/>
<text transform="translate(560.92,271.6) rotate(-90)" text-anchor="end" font-size="6" fill="#333" stroke="#333" stroke-width="0.15">2</text>
<line x1="564.12" x2="564.12" y1="268.4" y2="270.4" stroke="#000" stroke-width="0.8"/>
<text transform="translate(566.42,271.6) rotate(-90)" text-anchor="end" font-size="6" fill="#333" stroke="#333" stroke-width="0.15">3</text>
<line x1="569.62" x2="569.62" y1="268.4" y2="270.4" stroke="#000" stroke-width="0.8"/>
<text transform="translate(571.92,271.6) rotate(-90)" text-anchor="end" font-size="6" fill="#333" stroke="#333" stroke-width="0.15">4</text>
<line x1="575.12" x2="575.12" y1="268.4" y2="270.4" stroke="#000" stroke-width="0.8"/>
<text transform="translate(577.42,271.6) rotate(-90)" text-anchor="end" font-size="6" fill="#333" stroke="#333" stroke-width="0.15">5</text>
<line x1="580.62" x2="580.62" y1="268.4" y2="270.4" stroke="#000" stroke-width="0.8"/>
<text transform="translate(582.92,271.6) rotate(-90)" text-anchor="end" font-size="6" fill="#333" stroke="#333" stroke-width="0.15">6</text>
<line x1="586.12" x2="586.12" y1="268.4" y2="270.4" stroke="#000" stroke-width="0.8"/>
<text transform="translate(588.42,271.6) rotate(-90)" text-anchor="end" font-size="6" fill="#333" stroke="#333" stroke-width="0.15">7</text>
<line x1="591.62" x2="591.62" y1="268.4" y2="270.4" stroke="#000" stroke-width="0.8"/>
<text transform="translate(593.92,271.6) rotate(-90)" text-anchor="end" font-size="6" fill="#333" stroke="#333" stroke-width="0.15">8</text>
<line x1="597.12" x2="597.12" y1="268.4" y2="270.4" stroke="#000" stroke-width="0.8"/>
<text transform="translate(599.42,271.6) rotate(-90)" text-anchor="end" font-size="6" fill="#333" stroke="#333" stroke-width="0.15">9</text>
<line x1="602.62" x2="602.62" y1="268.4" y2="270.4" stroke="#000" stroke-width="0.8"/>
<text transform="translate(604.92,271.6) rotate(-90)" text-anchor="end" font-size="6" fill="#333" stroke="#333" stroke-width="0.15">10</text>
<polyline points="553.12,248.1 558.62,249.3 564.12,247.4 569.62,250.2 575.12,250.7 580.62,249.3 586.12,250.2 591.62,252.5 597.12,251.9 602.62,250.2" fill="none" stroke="#e6eef9" stroke-width="0.85" stroke-linejoin="round"/>
<circle cx="553.12" cy="248.1" r="1.15" fill="#e6eef9"/>
<circle cx="558.62" cy="249.3" r="1.15" fill="#e6eef9"/>
<circle cx="564.12" cy="247.4" r="1.15" fill="#e6eef9"/>
<circle cx="569.62" cy="250.2" r="1.15" fill="#e6eef9"/>
<circle cx="575.12" cy="250.7" r="1.15" fill="#e6eef9"/>
<circle cx="580.62" cy="249.3" r="1.15" fill="#e6eef9"/>
<circle cx="586.12" cy="250.2" r="1.15" fill="#e6eef9"/>
<circle cx="591.62" cy="252.5" r="1.15" fill="#e6eef9"/>
<circle cx="597.12" cy="251.9" r="1.15" fill="#e6eef9"/>
<circle cx="602.62" cy="250.2" r="1.15" fill="#e6eef9"/>
<polyline points="553.12,247.6 558.62,248.8 564.12,246.9 569.62,249.7 575.12,250.2 580.62,248.8 586.12,249.7 591.62,252 597.12,251.4 602.62,249.7" fill="none" stroke="#b8d4ea" stroke-width="0.85" stroke-linejoin="round"/>
<circle cx="553.12" cy="247.6" r="1.15" fill="#b8d4ea"/>
<circle cx="558.62" cy="248.8" r="1.15" fill="#b8d4ea"/>
<circle cx="564.12" cy="246.9" r="1.15" fill="#b8d4ea"/>
<circle cx="569.62" cy="249.7" r="1.15" fill="#b8d4ea"/>
<circle cx="575.12" cy="250.2" r="1.15" fill="#b8d4ea"/>
<circle cx="580.62" cy="248.8" r="1.15" fill="#b8d4ea"/>
<circle cx="586.12" cy="249.7" r="1.15" fill="#b8d4ea"/>
<circle cx="591.62" cy="252" r="1.15" fill="#b8d4ea"/>
<circle cx="597.12" cy="251.4" r="1.15" fill="#b8d4ea"/>
<circle cx="602.62" cy="249.7" r="1.15" fill="#b8d4ea"/>
<polyline points="553.12,247.1 558.62,248.3 564.12,246.4 569.62,249.2 575.12,249.7 580.62,248.3 586.12,249.2 591.62,251.5 597.12,250.9 602.62,249.2" fill="none" stroke="#74b3dc" stroke-width="0.85" stroke-linejoin="round"/>
<circle cx="553.12" cy="247.1" r="1.15" fill="#74b3dc"/>
<circle cx="558.62" cy="248.3" r="1.15" fill="#74b3dc"/>
<circle cx="564.12" cy="246.4" r="1.15" fill="#74b3dc"/>
<circle cx="569.62" cy="249.2" r="1.15" fill="#74b3dc"/>
<circle cx="575.12" cy="249.7" r="1.15" fill="#74b3dc"/>
<circle cx="580.62" cy="248.3" r="1.15" fill="#74b3dc"/>
<circle cx="586.12" cy="249.2" r="1.15" fill="#74b3dc"/>
<circle cx="591.62" cy="251.5" r="1.15" fill="#74b3dc"/>
<circle cx="597.12" cy="250.9" r="1.15" fill="#74b3dc"/>
<circle cx="602.62" cy="249.2" r="1.15" fill="#74b3dc"/>
<polyline points="553.12,246.6 558.62,247.8 564.12,245.9 569.62,248.7 575.12,249.2 580.62,247.8 586.12,248.7 591.62,251 597.12,250.4 602.62,248.7" fill="none" stroke="#5496d0" stroke-width="0.85" stroke-linejoin="round"/>
<circle cx="553.12" cy="246.6" r="1.15" fill="#5496d0"/>
<circle cx="558.62" cy="247.8" r="1.15" fill="#5496d0"/>
<circle cx="564.12" cy="245.9" r="1.15" fill="#5496d0"/>
<circle cx="569.62" cy="248.7" r="1.15" fill="#5496d0"/>
<circle cx="575.12" cy="249.2" r="1.15" fill="#5496d0"/>
<circle cx="580.62" cy="247.8" r="1.15" fill="#5496d0"/>
<circle cx="586.12" cy="248.7" r="1.15" fill="#5496d0"/>
<circle cx="591.62" cy="251" r="1.15" fill="#5496d0"/>
<circle cx="597.12" cy="250.4" r="1.15" fill="#5496d0"/>
<circle cx="602.62" cy="248.7" r="1.15" fill="#5496d0"/>
<polyline points="553.12,244.5 558.62,245.4 564.12,242 569.62,246.4 575.12,247.3 580.62,245 586.12,247.8 591.62,249.6 597.12,249.6 602.62,246.8" fill="none" stroke="#1f5faf" stroke-width="0.95" stroke-linejoin="round"/>
<circle cx="553.12" cy="244.5" r="1.3" fill="#1f5faf"/>
<circle cx="558.62" cy="245.4" r="1.3" fill="#1f5faf"/>
<circle cx="564.12" cy="242" r="1.3" fill="#1f5faf"/>
<circle cx="569.62" cy="246.4" r="1.3" fill="#1f5faf"/>
<circle cx="575.12" cy="247.3" r="1.3" fill="#1f5faf"/>
<circle cx="580.62" cy="245" r="1.3" fill="#1f5faf"/>
<circle cx="586.12" cy="247.8" r="1.3" fill="#1f5faf"/>
<circle cx="591.62" cy="249.6" r="1.3" fill="#1f5faf"/>
<circle cx="597.12" cy="249.6" r="1.3" fill="#1f5faf"/>
<circle cx="602.62" cy="246.8" r="1.3" fill="#1f5faf"/>
<rect x="610.41" y="175.35" width="55" height="11.85" fill="#fff" stroke="#111" stroke-width="1.3"/>
<text x="637.91" y="183.9" text-anchor="middle" font-size="6.5" fill="#4a4a4a" stroke="#4a4a4a" stroke-width="0.05">intron 5</text>
<line x1="609.81" x2="665.71" y1="268.4" y2="268.4" stroke="#000" stroke-width="1.2"/>
<line x1="613.01" x2="613.01" y1="268.4" y2="270.4" stroke="#000" stroke-width="0.8"/>
<text transform="translate(615.31,271.6) rotate(-90)" text-anchor="end" font-size="6" fill="#333" stroke="#333" stroke-width="0.15">1</text>
<line x1="618.51" x2="618.51" y1="268.4" y2="270.4" stroke="#000" stroke-width="0.8"/>
<text transform="translate(620.81,271.6) rotate(-90)" text-anchor="end" font-size="6" fill="#333" stroke="#333" stroke-width="0.15">2</text>
<line x1="624.01" x2="624.01" y1="268.4" y2="270.4" stroke="#000" stroke-width="0.8"/>
<text transform="translate(626.31,271.6) rotate(-90)" text-anchor="end" font-size="6" fill="#333" stroke="#333" stroke-width="0.15">3</text>
<line x1="629.51" x2="629.51" y1="268.4" y2="270.4" stroke="#000" stroke-width="0.8"/>
<text transform="translate(631.81,271.6) rotate(-90)" text-anchor="end" font-size="6" fill="#333" stroke="#333" stroke-width="0.15">4</text>
<line x1="635.01" x2="635.01" y1="268.4" y2="270.4" stroke="#000" stroke-width="0.8"/>
<text transform="translate(637.31,271.6) rotate(-90)" text-anchor="end" font-size="6" fill="#333" stroke="#333" stroke-width="0.15">5</text>
<line x1="640.51" x2="640.51" y1="268.4" y2="270.4" stroke="#000" stroke-width="0.8"/>
<text transform="translate(642.81,271.6) rotate(-90)" text-anchor="end" font-size="6" fill="#333" stroke="#333" stroke-width="0.15">6</text>
<line x1="646.01" x2="646.01" y1="268.4" y2="270.4" stroke="#000" stroke-width="0.8"/>
<text transform="translate(648.31,271.6) rotate(-90)" text-anchor="end" font-size="6" fill="#333" stroke="#333" stroke-width="0.15">7</text>
<line x1="651.51" x2="651.51" y1="268.4" y2="270.4" stroke="#000" stroke-width="0.8"/>
<text transform="translate(653.81,271.6) rotate(-90)" text-anchor="end" font-size="6" fill="#333" stroke="#333" stroke-width="0.15">8</text>
<line x1="657.01" x2="657.01" y1="268.4" y2="270.4" stroke="#000" stroke-width="0.8"/>
<text transform="translate(659.31,271.6) rotate(-90)" text-anchor="end" font-size="6" fill="#333" stroke="#333" stroke-width="0.15">9</text>
<line x1="662.51" x2="662.51" y1="268.4" y2="270.4" stroke="#000" stroke-width="0.8"/>
<text transform="translate(664.81,271.6) rotate(-90)" text-anchor="end" font-size="6" fill="#333" stroke="#333" stroke-width="0.15">10</text>
<polyline points="613.01,259.08 618.51,260.98 624.01,260.48 629.51,262.88 635.01,261.48 640.51,259.58 646.01,260.18 651.51,261.28 657.01,261.58 662.51,264.28" fill="none" stroke="#e6eef9" stroke-width="0.85" stroke-linejoin="round"/>
<circle cx="613.01" cy="259.08" r="1.15" fill="#e6eef9"/>
<circle cx="618.51" cy="260.98" r="1.15" fill="#e6eef9"/>
<circle cx="624.01" cy="260.48" r="1.15" fill="#e6eef9"/>
<circle cx="629.51" cy="262.88" r="1.15" fill="#e6eef9"/>
<circle cx="635.01" cy="261.48" r="1.15" fill="#e6eef9"/>
<circle cx="640.51" cy="259.58" r="1.15" fill="#e6eef9"/>
<circle cx="646.01" cy="260.18" r="1.15" fill="#e6eef9"/>
<circle cx="651.51" cy="261.28" r="1.15" fill="#e6eef9"/>
<circle cx="657.01" cy="261.58" r="1.15" fill="#e6eef9"/>
<circle cx="662.51" cy="264.28" r="1.15" fill="#e6eef9"/>
<polyline points="613.01,258.86 618.51,260.76 624.01,260.26 629.51,262.66 635.01,261.26 640.51,259.36 646.01,259.96 651.51,261.06 657.01,261.36 662.51,264.06" fill="none" stroke="#b8d4ea" stroke-width="0.85" stroke-linejoin="round"/>
<circle cx="613.01" cy="258.86" r="1.15" fill="#b8d4ea"/>
<circle cx="618.51" cy="260.76" r="1.15" fill="#b8d4ea"/>
<circle cx="624.01" cy="260.26" r="1.15" fill="#b8d4ea"/>
<circle cx="629.51" cy="262.66" r="1.15" fill="#b8d4ea"/>
<circle cx="635.01" cy="261.26" r="1.15" fill="#b8d4ea"/>
<circle cx="640.51" cy="259.36" r="1.15" fill="#b8d4ea"/>
<circle cx="646.01" cy="259.96" r="1.15" fill="#b8d4ea"/>
<circle cx="651.51" cy="261.06" r="1.15" fill="#b8d4ea"/>
<circle cx="657.01" cy="261.36" r="1.15" fill="#b8d4ea"/>
<circle cx="662.51" cy="264.06" r="1.15" fill="#b8d4ea"/>
<polyline points="613.01,258.64 618.51,260.54 624.01,260.04 629.51,262.44 635.01,261.04 640.51,259.14 646.01,259.74 651.51,260.84 657.01,261.14 662.51,263.84" fill="none" stroke="#74b3dc" stroke-width="0.85" stroke-linejoin="round"/>
<circle cx="613.01" cy="258.64" r="1.15" fill="#74b3dc"/>
<circle cx="618.51" cy="260.54" r="1.15" fill="#74b3dc"/>
<circle cx="624.01" cy="260.04" r="1.15" fill="#74b3dc"/>
<circle cx="629.51" cy="262.44" r="1.15" fill="#74b3dc"/>
<circle cx="635.01" cy="261.04" r="1.15" fill="#74b3dc"/>
<circle cx="640.51" cy="259.14" r="1.15" fill="#74b3dc"/>
<circle cx="646.01" cy="259.74" r="1.15" fill="#74b3dc"/>
<circle cx="651.51" cy="260.84" r="1.15" fill="#74b3dc"/>
<circle cx="657.01" cy="261.14" r="1.15" fill="#74b3dc"/>
<circle cx="662.51" cy="263.84" r="1.15" fill="#74b3dc"/>
<polyline points="613.01,258.42 618.51,260.32 624.01,259.82 629.51,262.22 635.01,260.82 640.51,258.92 646.01,259.52 651.51,260.62 657.01,260.92 662.51,263.62" fill="none" stroke="#5496d0" stroke-width="0.85" stroke-linejoin="round"/>
<circle cx="613.01" cy="258.42" r="1.15" fill="#5496d0"/>
<circle cx="618.51" cy="260.32" r="1.15" fill="#5496d0"/>
<circle cx="624.01" cy="259.82" r="1.15" fill="#5496d0"/>
<circle cx="629.51" cy="262.22" r="1.15" fill="#5496d0"/>
<circle cx="635.01" cy="260.82" r="1.15" fill="#5496d0"/>
<circle cx="640.51" cy="258.92" r="1.15" fill="#5496d0"/>
<circle cx="646.01" cy="259.52" r="1.15" fill="#5496d0"/>
<circle cx="651.51" cy="260.62" r="1.15" fill="#5496d0"/>
<circle cx="657.01" cy="260.92" r="1.15" fill="#5496d0"/>
<circle cx="662.51" cy="263.62" r="1.15" fill="#5496d0"/>
<polyline points="613.01,258.2 618.51,260.1 624.01,259.6 629.51,262 635.01,260.6 640.51,258.7 646.01,259.3 651.51,260.4 657.01,260.7 662.51,263.4" fill="none" stroke="#1f5faf" stroke-width="0.95" stroke-linejoin="round"/>
<circle cx="613.01" cy="258.2" r="1.3" fill="#1f5faf"/>
<circle cx="618.51" cy="260.1" r="1.3" fill="#1f5faf"/>
<circle cx="624.01" cy="259.6" r="1.3" fill="#1f5faf"/>
<circle cx="629.51" cy="262" r="1.3" fill="#1f5faf"/>
<circle cx="635.01" cy="260.6" r="1.3" fill="#1f5faf"/>
<circle cx="640.51" cy="258.7" r="1.3" fill="#1f5faf"/>
<circle cx="646.01" cy="259.3" r="1.3" fill="#1f5faf"/>
<circle cx="651.51" cy="260.4" r="1.3" fill="#1f5faf"/>
<circle cx="657.01" cy="260.7" r="1.3" fill="#1f5faf"/>
<circle cx="662.51" cy="263.4" r="1.3" fill="#1f5faf"/>
<line x1="70.9" x2="70.9" y1="187.8" y2="269" stroke="#000" stroke-width="1.3"/>
<line x1="68" x2="70.9" y1="248.1" y2="248.1" stroke="#000" stroke-width="1"/>
<text x="66.6" y="250.4" text-anchor="end" font-size="6.5" fill="#5a5a5a" stroke="#5a5a5a" stroke-width="0.18">1</text>
<line x1="68" x2="70.9" y1="228" y2="228" stroke="#000" stroke-width="1"/>
<text x="66.6" y="230.3" text-anchor="end" font-size="6.5" fill="#5a5a5a" stroke="#5a5a5a" stroke-width="0.18">2</text>
<line x1="68" x2="70.9" y1="207.9" y2="207.9" stroke="#000" stroke-width="1"/>
<text x="66.6" y="210.2" text-anchor="end" font-size="6.5" fill="#5a5a5a" stroke="#5a5a5a" stroke-width="0.18">3</text>
<text transform="translate(41.1,227.6) rotate(-90)" text-anchor="middle" font-size="8.1" fill="#000" stroke="#000" stroke-width="0.18">Mean methylation</text>
<text transform="translate(50.0,227.7) rotate(-90)" text-anchor="middle" font-size="8.1" fill="#000" stroke="#000" stroke-width="0.18">per Cpg (%)</text>
<text x="367.7" y="296.2" text-anchor="middle" font-size="8.15" fill="#000" stroke="#000" stroke-width="0.18">Exon/Intron portion 5'−3'(1−10, Features&gt;50 bp)</text>
<text x="286.3" y="318.6" font-size="8.1" fill="#000" stroke="#000" stroke-width="0.18">stage</text>
<line x1="311.5" x2="322.3" y1="316" y2="316" stroke="#e6eef9" stroke-width="1.8" stroke-opacity="0.7"/>
<circle cx="316.9" cy="316" r="1.5" fill="#e6eef9"/>
<text x="326.6" y="318.6" font-size="6.6" fill="#5a5a5a" stroke="#5a5a5a" stroke-width="0.18">L5</text>
<line x1="339.1" x2="349.9" y1="316" y2="316" stroke="#b8d4ea" stroke-width="1.8" stroke-opacity="0.7"/>
<circle cx="344.5" cy="316" r="1.5" fill="#b8d4ea"/>
<text x="355.2" y="318.6" font-size="6.6" fill="#5a5a5a" stroke="#5a5a5a" stroke-width="0.18">P0</text>
<line x1="368.1" x2="378.9" y1="316" y2="316" stroke="#74b3dc" stroke-width="1.8" stroke-opacity="0.7"/>
<circle cx="373.5" cy="316" r="1.5" fill="#74b3dc"/>
<text x="383.9" y="318.6" font-size="6.6" fill="#5a5a5a" stroke="#5a5a5a" stroke-width="0.18">P2</text>
<line x1="397.5" x2="408.3" y1="316" y2="316" stroke="#5496d0" stroke-width="1.8" stroke-opacity="0.7"/>
<circle cx="402.9" cy="316" r="1.5" fill="#5496d0"/>
<text x="412.8" y="318.6" font-size="6.6" fill="#5a5a5a" stroke="#5a5a5a" stroke-width="0.18">P4</text>
<line x1="426.4" x2="437.2" y1="316" y2="316" stroke="#1f5faf" stroke-width="1.8" stroke-opacity="0.7"/>
<circle cx="431.8" cy="316" r="1.5" fill="#1f5faf"/>
<text x="442.1" y="318.6" font-size="6.6" fill="#5a5a5a" stroke="#5a5a5a" stroke-width="0.18">P6</text>
</svg>
</body></html>
